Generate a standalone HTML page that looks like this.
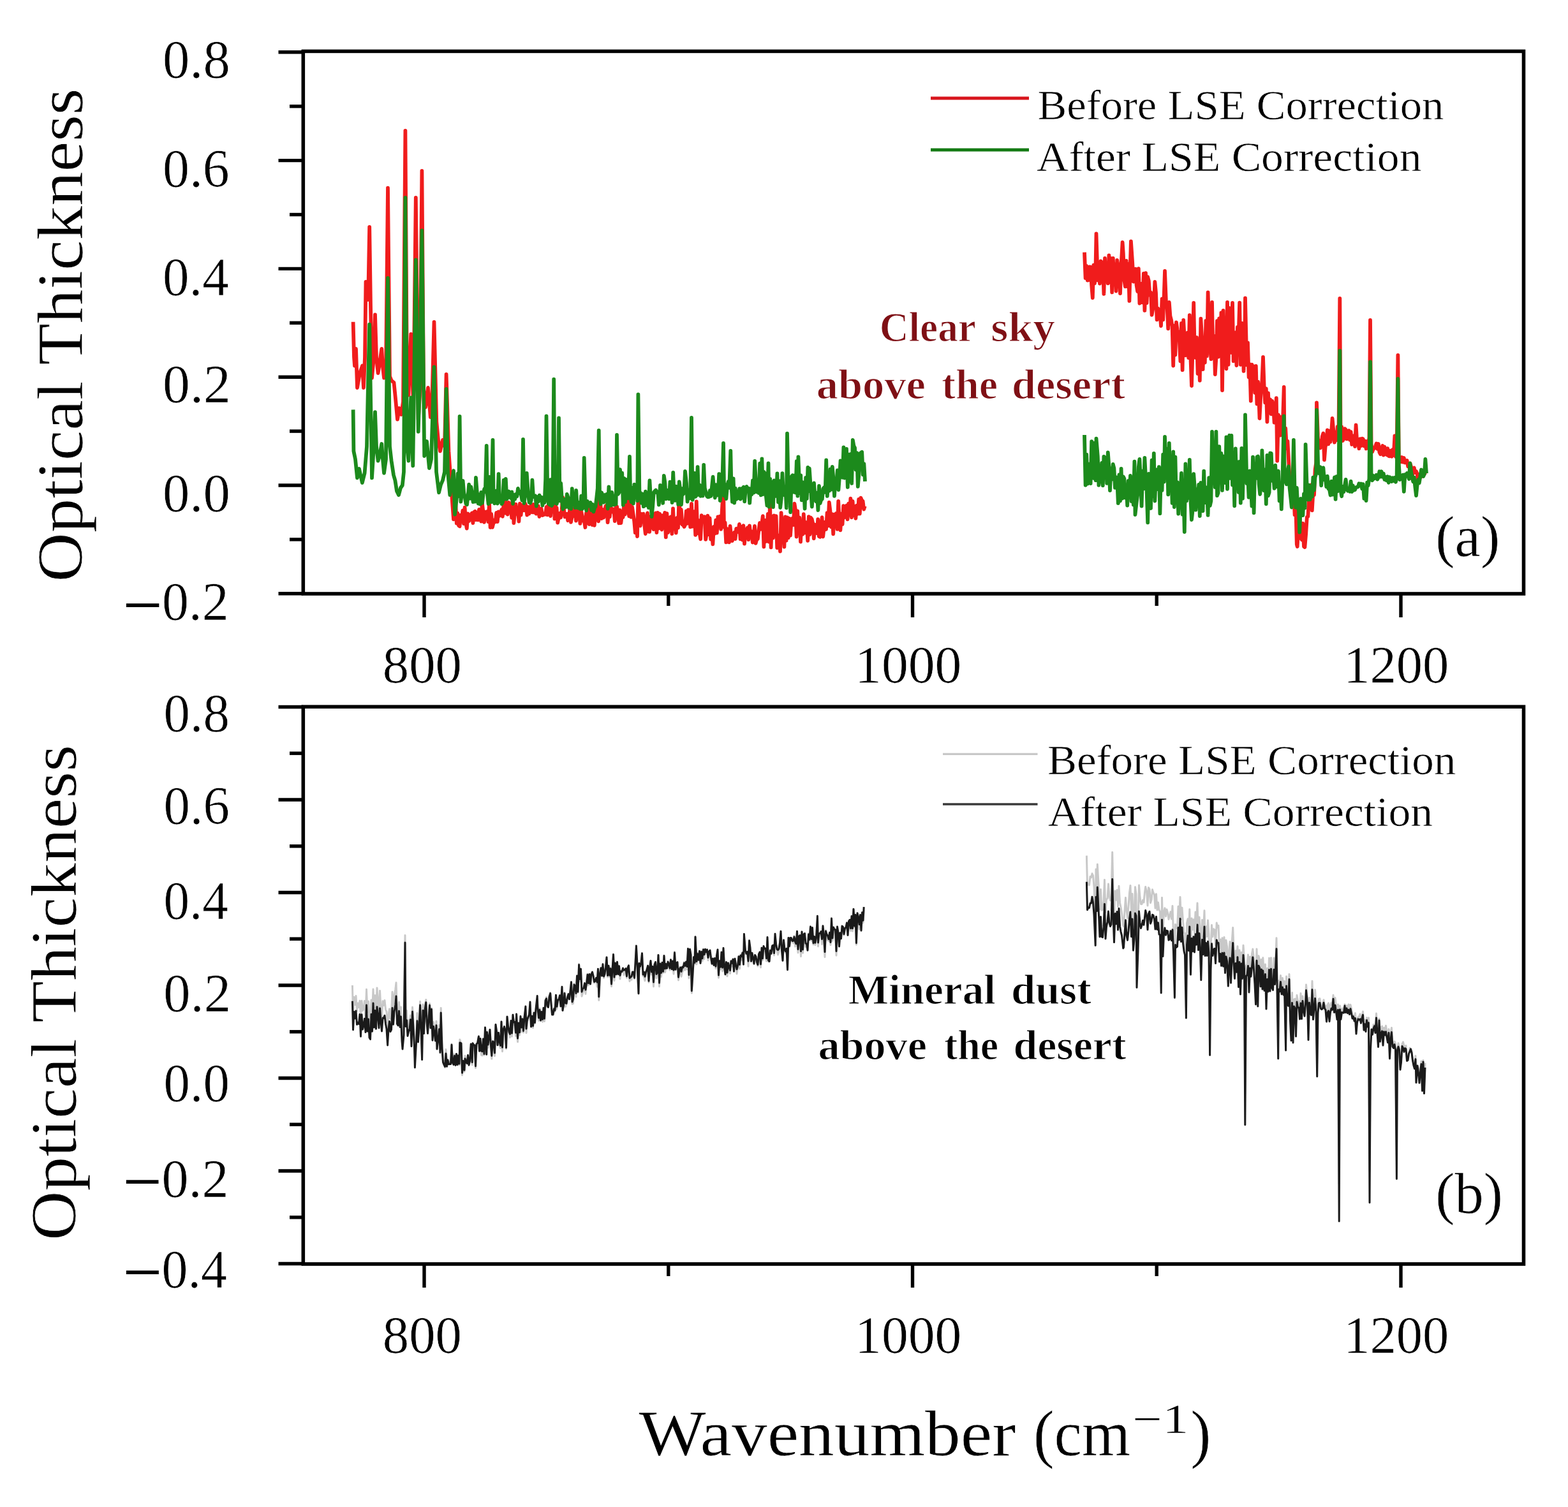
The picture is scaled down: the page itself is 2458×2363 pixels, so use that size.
<!DOCTYPE html>
<html><head><meta charset="utf-8"><title>Optical Thickness</title><style>html,body{margin:0;padding:0;background:#fff;overflow:hidden;}svg{display:block;}</style></head><body>
<svg width="2458" height="2363" viewBox="0 0 2458 2363" font-family='"Liberation Serif", "DejaVu Serif", serif'>
<rect width="2458" height="2363" fill="#fff"/>
<rect x="475.3" y="80.4" width="1913.2" height="850.6" fill="none" stroke="#000" stroke-width="5.6"/>
<line x1="436.5" y1="81.8" x2="475.3" y2="81.8" stroke="#000" stroke-width="5.4"/>
<line x1="436.5" y1="251.6" x2="475.3" y2="251.6" stroke="#000" stroke-width="5.4"/>
<line x1="436.5" y1="421.4" x2="475.3" y2="421.4" stroke="#000" stroke-width="5.4"/>
<line x1="436.5" y1="591.2" x2="475.3" y2="591.2" stroke="#000" stroke-width="5.4"/>
<line x1="436.5" y1="761.0" x2="475.3" y2="761.0" stroke="#000" stroke-width="5.4"/>
<line x1="436.5" y1="930.8" x2="475.3" y2="930.8" stroke="#000" stroke-width="5.4"/>
<line x1="454" y1="166.7" x2="475.3" y2="166.7" stroke="#000" stroke-width="5.4"/>
<line x1="454" y1="336.5" x2="475.3" y2="336.5" stroke="#000" stroke-width="5.4"/>
<line x1="454" y1="506.3" x2="475.3" y2="506.3" stroke="#000" stroke-width="5.4"/>
<line x1="454" y1="676.1" x2="475.3" y2="676.1" stroke="#000" stroke-width="5.4"/>
<line x1="454" y1="845.9" x2="475.3" y2="845.9" stroke="#000" stroke-width="5.4"/>
<line x1="665.0" y1="931.0" x2="665.0" y2="968.0" stroke="#000" stroke-width="5.4"/>
<line x1="1430.5" y1="931.0" x2="1430.5" y2="968.0" stroke="#000" stroke-width="5.4"/>
<line x1="2196.0" y1="931.0" x2="2196.0" y2="968.0" stroke="#000" stroke-width="5.4"/>
<line x1="1047.8" y1="931.0" x2="1047.8" y2="950.0" stroke="#000" stroke-width="5.4"/>
<line x1="1813.2" y1="931.0" x2="1813.2" y2="950.0" stroke="#000" stroke-width="5.4"/>
<rect x="475.3" y="1108.2" width="1913.2" height="873.8" fill="none" stroke="#000" stroke-width="5.6"/>
<line x1="436.5" y1="1108.5" x2="475.3" y2="1108.5" stroke="#000" stroke-width="5.4"/>
<line x1="436.5" y1="1254.0" x2="475.3" y2="1254.0" stroke="#000" stroke-width="5.4"/>
<line x1="436.5" y1="1399.5" x2="475.3" y2="1399.5" stroke="#000" stroke-width="5.4"/>
<line x1="436.5" y1="1545.0" x2="475.3" y2="1545.0" stroke="#000" stroke-width="5.4"/>
<line x1="436.5" y1="1690.5" x2="475.3" y2="1690.5" stroke="#000" stroke-width="5.4"/>
<line x1="436.5" y1="1836.0" x2="475.3" y2="1836.0" stroke="#000" stroke-width="5.4"/>
<line x1="436.5" y1="1981.5" x2="475.3" y2="1981.5" stroke="#000" stroke-width="5.4"/>
<line x1="454" y1="1181.2" x2="475.3" y2="1181.2" stroke="#000" stroke-width="5.4"/>
<line x1="454" y1="1326.8" x2="475.3" y2="1326.8" stroke="#000" stroke-width="5.4"/>
<line x1="454" y1="1472.2" x2="475.3" y2="1472.2" stroke="#000" stroke-width="5.4"/>
<line x1="454" y1="1617.8" x2="475.3" y2="1617.8" stroke="#000" stroke-width="5.4"/>
<line x1="454" y1="1763.2" x2="475.3" y2="1763.2" stroke="#000" stroke-width="5.4"/>
<line x1="454" y1="1908.8" x2="475.3" y2="1908.8" stroke="#000" stroke-width="5.4"/>
<line x1="665.0" y1="1982.0" x2="665.0" y2="2019.0" stroke="#000" stroke-width="5.4"/>
<line x1="1430.5" y1="1982.0" x2="1430.5" y2="2019.0" stroke="#000" stroke-width="5.4"/>
<line x1="2196.0" y1="1982.0" x2="2196.0" y2="2019.0" stroke="#000" stroke-width="5.4"/>
<line x1="1047.8" y1="1982.0" x2="1047.8" y2="2001.0" stroke="#000" stroke-width="5.4"/>
<line x1="1813.2" y1="1982.0" x2="1813.2" y2="2001.0" stroke="#000" stroke-width="5.4"/>
<path d="M553.6,504.8 L555.0,560.0 L556.0,573.6 L558.0,547.0 L560.0,608.0 L564.0,585.0 L568.0,573.6 L570.0,608.0 L572.0,560.0 L573.5,441.8 L576.0,470.0 L577.5,450.0 L579.2,355.8 L581.0,480.0 L583.0,592.7 L586.0,560.0 L588.0,493.4 L590.0,560.0 L592.6,585.0 L595.0,570.0 L598.3,546.9 L600.0,575.0 L602.0,592.7 L605.0,580.0 L608.0,294.6 L611.0,590.0 L613.6,596.6 L617.5,600.0 L620.0,625.0 L623.0,657.7 L626.0,640.0 L629.0,650.0 L632.0,630.0 L635.4,204.8 L638.0,600.0 L640.4,619.5 L644.2,524.0 L648.0,638.6 L651.8,310.0 L655.7,657.7 L658.0,620.0 L661.4,267.9 L664.0,610.0 L667.0,638.6 L671.0,608.0 L674.8,654.0 L677.0,640.0 L680.5,504.8 L684.3,661.5 L687.0,690.0 L690.0,707.4 L694.0,690.0 L697.0,700.0 L699.6,587.0 L703.4,707.4 L707.0,760.0 L711.0,814.4 L712.6,812.5 L714.2,787.2 L715.8,820.6 L717.4,804.7 L719.0,824.0 L720.6,825.3 L722.2,807.7 L723.8,812.6 L725.4,800.3 L727.0,821.1 L728.6,795.7 L730.2,820.2 L731.8,828.6 L733.4,805.3 L735.0,817.1 L736.6,814.2 L738.2,807.1 L739.8,804.5 L741.4,820.2 L743.0,803.0 L744.6,801.8 L746.2,815.2 L747.8,803.4 L749.4,815.4 L751.0,799.0 L752.6,800.1 L754.2,817.6 L755.8,788.2 L757.4,802.4 L759.0,818.9 L760.6,802.6 L762.2,813.7 L763.8,801.9 L765.4,818.1 L767.0,788.1 L768.6,827.0 L770.2,806.0 L771.8,826.9 L773.4,820.8 L775.0,815.5 L776.6,818.2 L778.2,803.9 L779.8,818.1 L781.4,802.5 L783.0,808.9 L784.6,804.3 L786.2,799.3 L787.8,809.9 L789.4,791.4 L791.0,786.9 L792.6,804.7 L794.2,787.8 L795.8,806.5 L797.4,787.8 L799.0,800.0 L800.6,790.7 L802.2,811.9 L803.8,775.4 L805.4,820.1 L807.0,805.2 L808.6,790.7 L810.2,805.9 L811.8,796.3 L813.4,817.5 L815.0,789.6 L816.6,807.6 L818.2,792.2 L819.8,795.5 L821.4,800.3 L823.0,789.1 L824.6,792.9 L826.2,807.7 L827.8,795.0 L829.4,805.7 L831.0,794.3 L832.6,793.2 L834.2,803.3 L835.8,790.8 L837.4,803.6 L839.0,791.3 L840.6,805.7 L842.2,803.7 L843.8,793.3 L845.4,810.1 L847.0,803.0 L848.6,797.6 L850.2,808.1 L851.8,807.6 L853.4,805.5 L855.0,806.5 L856.6,794.8 L858.2,807.4 L859.8,790.8 L861.4,796.4 L863.0,809.2 L864.6,791.7 L866.2,793.8 L868.4,765.5 L869.4,813.5 L871.0,794.4 L872.6,796.3 L874.2,819.6 L875.8,811.5 L877.4,804.9 L879.0,811.5 L880.6,799.6 L882.2,779.9 L883.8,797.0 L885.4,810.5 L887.0,809.7 L888.6,805.8 L890.2,816.2 L891.8,811.4 L893.4,797.9 L895.0,818.8 L896.6,810.4 L898.2,797.1 L899.8,809.1 L901.4,798.8 L903.0,816.6 L904.6,802.1 L906.2,799.9 L907.8,800.1 L909.4,820.9 L911.0,801.4 L912.6,808.6 L914.2,816.9 L915.8,816.2 L917.4,827.0 L919.0,804.7 L920.6,820.2 L922.2,791.6 L923.8,822.0 L925.4,804.7 L927.0,811.7 L928.6,823.0 L930.2,802.0 L931.8,823.9 L933.4,801.9 L935.0,814.8 L936.6,784.9 L938.2,817.3 L939.8,797.2 L941.4,789.9 L943.0,813.1 L944.6,799.0 L946.2,811.7 L947.8,804.1 L949.4,793.8 L951.0,792.1 L952.6,819.2 L954.2,802.6 L955.8,810.4 L957.4,794.8 L959.0,797.8 L960.6,802.9 L962.2,798.6 L963.8,817.1 L965.4,796.0 L967.0,794.1 L968.6,802.3 L970.2,820.3 L971.8,799.9 L973.4,820.2 L975.0,807.5 L976.6,811.0 L978.2,790.3 L979.8,806.6 L981.4,792.4 L983.0,769.9 L984.6,797.7 L986.2,809.3 L987.8,776.4 L989.4,810.8 L991.0,795.0 L992.6,805.9 L994.2,817.0 L995.8,835.3 L997.4,822.3 L999.0,841.1 L1000.4,780.0 L1002.2,808.0 L1003.8,824.5 L1005.4,806.0 L1007.0,813.4 L1008.6,805.7 L1010.2,822.9 L1011.8,837.0 L1013.4,817.0 L1015.0,804.4 L1016.6,833.7 L1018.2,833.9 L1019.8,810.0 L1021.4,827.3 L1023.0,807.5 L1024.6,830.1 L1026.2,807.3 L1027.8,804.6 L1029.4,835.0 L1031.0,803.8 L1032.6,828.6 L1034.2,805.7 L1035.8,817.5 L1037.4,830.5 L1039.0,808.1 L1040.6,826.2 L1042.2,803.8 L1043.8,842.3 L1045.4,805.1 L1047.0,835.2 L1048.6,830.0 L1050.2,811.5 L1051.8,810.2 L1053.4,837.2 L1055.0,797.5 L1056.6,829.2 L1058.2,815.4 L1059.8,835.6 L1061.4,811.8 L1063.0,827.7 L1064.6,778.1 L1066.2,820.2 L1067.8,799.0 L1069.4,822.5 L1071.0,823.1 L1072.6,826.0 L1074.2,822.5 L1075.8,801.5 L1077.4,820.9 L1079.0,799.5 L1080.6,804.8 L1082.2,826.3 L1084.0,790.0 L1085.4,825.7 L1087.0,821.7 L1088.6,802.1 L1090.2,838.9 L1091.8,786.4 L1093.4,836.2 L1095.0,815.8 L1096.6,836.2 L1098.2,845.4 L1099.8,808.1 L1101.4,817.5 L1103.0,815.5 L1104.6,810.2 L1106.2,845.9 L1107.8,837.0 L1109.4,808.7 L1111.0,838.0 L1112.6,812.3 L1114.2,845.5 L1115.8,830.5 L1117.4,853.4 L1119.0,825.8 L1120.6,836.7 L1122.2,815.7 L1123.8,835.7 L1125.4,810.4 L1127.0,814.7 L1128.6,809.6 L1130.2,829.8 L1131.8,800.9 L1134.0,761.2 L1135.0,826.4 L1136.6,819.4 L1138.2,850.3 L1139.8,829.1 L1141.4,849.7 L1143.0,850.3 L1144.6,825.0 L1146.2,843.3 L1147.8,848.1 L1149.4,842.4 L1151.0,834.9 L1152.6,845.1 L1154.2,828.9 L1155.8,834.2 L1157.4,832.8 L1159.0,821.9 L1160.6,845.2 L1162.2,825.9 L1163.8,846.6 L1165.4,824.2 L1167.0,852.7 L1168.6,830.4 L1170.2,838.5 L1171.8,827.5 L1173.4,846.2 L1175.0,824.4 L1176.6,839.3 L1178.2,833.4 L1179.8,850.5 L1181.4,842.1 L1183.0,824.8 L1184.6,851.9 L1186.2,845.9 L1187.8,845.1 L1189.4,831.2 L1191.0,820.0 L1192.6,829.8 L1194.2,821.8 L1195.8,809.1 L1197.4,857.3 L1199.0,815.9 L1200.6,849.1 L1202.2,828.8 L1203.8,806.0 L1205.4,849.6 L1207.0,789.1 L1208.6,858.3 L1210.2,809.4 L1211.8,843.7 L1213.4,808.5 L1215.0,830.4 L1216.6,809.1 L1218.2,859.0 L1219.8,839.3 L1221.4,841.5 L1223.0,864.5 L1224.6,804.2 L1226.2,827.4 L1227.8,830.6 L1229.4,857.5 L1231.0,810.3 L1232.6,847.6 L1234.2,811.4 L1235.8,843.4 L1237.4,813.0 L1239.0,839.7 L1240.6,815.7 L1242.2,812.9 L1243.8,823.1 L1245.4,789.7 L1247.0,799.7 L1248.6,841.7 L1250.2,801.3 L1251.8,836.1 L1253.4,811.6 L1255.0,849.5 L1256.6,817.3 L1258.2,837.9 L1259.8,806.1 L1261.4,835.7 L1263.0,819.0 L1264.6,821.7 L1266.2,847.9 L1267.8,810.1 L1269.4,838.2 L1271.0,811.7 L1272.6,813.7 L1274.2,820.5 L1275.8,844.4 L1277.4,822.6 L1279.0,831.3 L1280.6,836.2 L1282.2,814.1 L1283.8,841.2 L1285.4,841.9 L1287.0,827.0 L1288.6,811.2 L1290.2,841.5 L1291.8,826.9 L1293.4,818.6 L1295.0,830.0 L1296.6,804.1 L1298.2,824.5 L1299.8,787.7 L1301.4,800.8 L1303.0,826.4 L1304.6,806.2 L1306.2,837.3 L1307.8,806.6 L1309.4,824.8 L1311.0,804.8 L1312.6,829.8 L1314.2,785.8 L1315.8,818.4 L1317.4,831.4 L1319.0,805.3 L1320.6,822.2 L1322.2,793.2 L1323.8,811.5 L1325.4,804.1 L1327.0,792.6 L1328.6,814.4 L1330.2,789.7 L1331.8,807.7 L1333.4,781.6 L1335.0,811.3 L1336.6,786.0 L1338.2,808.1 L1339.8,794.2 L1341.4,812.8 L1343.0,792.7 L1344.6,805.9 L1346.2,783.0 L1347.8,805.5 L1349.4,780.6 L1351.0,784.4 L1352.6,785.9 L1354.2,798.5 L1355.8,793.7" stroke="#f01c1c" stroke-width="5.8" fill="none" stroke-linejoin="round" stroke-linecap="butt"/>
<path d="M1700.0,395.7 L1701.6,436.2 L1703.2,417.0 L1704.8,439.5 L1706.4,439.4 L1708.0,418.5 L1709.6,418.7 L1711.2,447.5 L1712.8,467.1 L1714.4,415.6 L1716.0,444.4 L1717.6,415.1 L1718.5,366.5 L1720.8,439.5 L1722.4,411.4 L1724.0,444.6 L1725.6,409.5 L1727.2,429.9 L1728.8,411.4 L1730.4,460.9 L1732.0,405.0 L1733.6,438.7 L1735.2,417.9 L1736.8,444.4 L1738.4,400.4 L1740.0,442.3 L1741.6,405.2 L1743.2,458.4 L1744.8,404.8 L1746.4,439.3 L1748.0,414.5 L1749.6,456.5 L1751.2,407.8 L1752.8,417.7 L1754.4,427.0 L1756.0,460.2 L1757.6,415.4 L1759.6,379.8 L1760.8,397.3 L1762.4,439.8 L1764.0,449.4 L1765.6,408.9 L1767.2,449.3 L1768.8,414.2 L1770.4,471.8 L1772.0,410.2 L1772.9,378.5 L1775.2,411.9 L1776.8,441.6 L1778.4,440.7 L1780.0,421.6 L1781.6,447.1 L1783.2,457.0 L1784.8,421.2 L1786.4,475.6 L1788.0,444.6 L1789.6,453.2 L1791.2,474.3 L1792.8,428.8 L1794.4,486.9 L1796.0,428.2 L1797.6,475.1 L1799.2,434.2 L1800.8,440.4 L1802.4,462.7 L1804.0,458.4 L1805.6,493.8 L1807.2,484.8 L1808.8,477.7 L1810.4,441.9 L1812.0,459.1 L1813.6,501.4 L1815.2,483.7 L1816.8,488.5 L1818.4,491.2 L1820.0,511.0 L1821.6,468.6 L1823.2,501.3 L1824.8,461.2 L1826.0,425.0 L1828.0,475.7 L1829.6,481.2 L1831.2,515.4 L1832.8,474.0 L1834.4,495.4 L1836.0,501.4 L1837.6,512.0 L1839.2,573.5 L1840.8,510.6 L1842.4,556.5 L1844.0,505.4 L1845.6,517.0 L1847.2,525.1 L1848.8,533.7 L1850.4,566.3 L1852.0,507.0 L1853.6,580.1 L1855.2,502.0 L1856.8,530.9 L1858.4,557.3 L1860.0,555.6 L1861.6,521.6 L1863.2,561.1 L1864.8,494.2 L1866.4,559.9 L1868.0,605.0 L1869.6,546.1 L1871.2,475.0 L1872.8,554.8 L1874.4,560.9 L1876.0,529.2 L1877.6,585.8 L1879.2,542.9 L1880.8,596.6 L1882.4,499.7 L1884.0,527.1 L1885.6,579.1 L1887.2,530.9 L1888.8,568.5 L1890.4,502.9 L1892.0,558.2 L1893.6,458.4 L1895.2,517.7 L1896.8,535.3 L1898.4,563.2 L1900.0,474.0 L1901.6,560.3 L1903.2,526.9 L1904.8,587.0 L1906.4,561.5 L1908.0,503.2 L1909.6,559.7 L1911.2,499.4 L1912.8,558.4 L1914.4,490.5 L1916.0,612.0 L1917.6,486.8 L1919.2,550.8 L1920.8,510.9 L1922.4,578.3 L1924.0,473.8 L1925.6,571.7 L1927.2,482.9 L1928.8,499.0 L1930.4,552.8 L1932.0,475.0 L1933.6,566.2 L1935.2,548.2 L1936.8,521.3 L1938.4,573.0 L1940.0,512.9 L1941.6,525.9 L1943.2,474.6 L1944.8,571.8 L1946.4,506.6 L1948.0,526.7 L1949.6,581.9 L1951.2,530.7 L1952.0,467.4 L1954.4,572.3 L1956.0,537.4 L1957.6,591.5 L1959.2,571.2 L1960.8,628.6 L1962.4,571.6 L1964.0,595.5 L1965.6,574.5 L1967.2,615.8 L1968.8,573.8 L1970.4,633.3 L1972.0,598.7 L1973.6,630.6 L1974.5,656.0 L1976.8,610.7 L1978.4,597.6 L1980.0,560.0 L1981.6,604.8 L1983.2,631.3 L1984.8,609.4 L1986.4,661.5 L1988.0,616.3 L1989.6,647.2 L1991.2,626.4 L1992.8,649.4 L1994.4,628.9 L1996.0,635.1 L1997.6,662.7 L1999.2,662.3 L2000.8,624.2 L2002.2,722.6 L2004.0,650.3 L2005.6,662.1 L2007.2,682.5 L2008.8,653.7 L2010.4,677.7 L2012.7,607.0 L2013.6,704.0 L2015.2,671.3 L2016.8,700.0 L2018.4,691.5 L2020.0,720.8 L2021.6,749.4 L2023.2,747.5 L2024.8,762.5 L2026.4,793.9 L2028.0,769.6 L2029.6,807.5 L2031.2,790.1 L2032.8,853.7 L2033.7,857.0 L2036.0,816.8 L2037.6,807.8 L2039.2,843.9 L2040.8,846.4 L2042.4,820.6 L2044.0,857.1 L2045.4,858.0 L2047.2,836.7 L2048.8,810.7 L2050.4,809.8 L2052.0,780.9 L2053.6,793.1 L2055.2,760.4 L2056.8,800.3 L2058.4,772.2 L2060.0,776.2 L2061.6,736.1 L2063.2,725.6 L2064.0,631.5 L2066.4,697.1 L2068.0,690.7 L2069.6,702.6 L2071.2,697.9 L2072.8,684.5 L2074.4,679.5 L2076.0,721.2 L2077.6,700.6 L2079.2,695.0 L2080.8,674.3 L2082.4,696.4 L2084.0,675.7 L2085.6,692.9 L2087.2,676.7 L2088.6,656.0 L2090.4,675.7 L2092.0,693.7 L2093.6,678.0 L2095.2,690.1 L2096.8,668.8 L2098.4,690.0 L2100.3,468.0 L2101.6,692.7 L2103.2,669.2 L2104.8,691.1 L2106.4,688.3 L2108.0,672.2 L2109.6,673.7 L2111.2,688.4 L2112.8,687.6 L2114.4,675.1 L2116.0,689.8 L2117.6,677.1 L2119.2,696.9 L2120.8,695.8 L2122.4,683.2 L2124.0,700.1 L2125.6,666.4 L2127.2,692.1 L2128.8,691.1 L2130.4,703.4 L2132.0,688.1 L2133.6,699.2 L2135.2,687.6 L2136.8,688.4 L2138.4,699.3 L2140.0,691.7 L2141.6,703.5 L2143.2,691.8 L2144.8,698.8 L2146.4,686.3 L2148.0,501.9 L2149.6,696.2 L2151.2,708.4 L2152.8,704.1 L2154.4,703.1 L2156.0,700.2 L2157.6,695.5 L2159.2,703.9 L2160.8,696.0 L2162.4,709.1 L2164.0,712.2 L2165.6,711.3 L2167.2,698.9 L2168.8,713.6 L2170.4,700.6 L2172.0,711.8 L2173.6,713.1 L2175.2,703.2 L2176.8,714.9 L2178.4,715.4 L2180.0,706.6 L2181.6,715.8 L2183.2,704.8 L2184.8,713.7 L2186.4,683.4 L2188.0,716.1 L2189.6,709.4 L2191.4,556.8 L2192.8,719.8 L2194.4,722.9 L2196.0,724.0 L2197.6,717.0 L2199.2,724.6 L2200.8,718.0 L2202.4,725.5 L2204.0,725.2 L2205.6,722.1 L2207.2,731.6 L2208.8,729.8 L2210.4,726.4 L2212.0,731.6 L2213.6,750.5 L2215.2,735.0 L2216.8,733.6 L2218.4,741.1 L2220.0,739.0 L2221.6,743.2 L2223.2,756.7 L2224.8,745.1 L2226.4,743.3 L2228.0,747.5 L2229.6,742.8 L2231.2,742.9 L2232.8,743.4 L2234.4,741.0 L2236.0,740.8" stroke="#f01c1c" stroke-width="5.8" fill="none" stroke-linejoin="round" stroke-linecap="butt"/>
<path d="M553.6,642.4 L554.4,707.4 L557.0,720.0 L560.0,749.4 L563.0,735.0 L567.8,757.0 L571.6,741.8 L575.0,700.0 L577.3,588.9 L579.2,508.7 L581.0,620.0 L583.0,749.4 L586.0,700.0 L588.0,646.2 L590.0,700.0 L592.6,722.7 L595.0,715.0 L598.3,696.0 L600.0,720.0 L602.0,741.8 L605.0,720.0 L608.0,436.0 L611.0,700.0 L613.6,722.7 L617.0,745.0 L619.4,753.2 L622.0,770.0 L625.0,776.2 L628.0,765.0 L630.8,761.0 L633.0,740.0 L635.4,310.0 L638.0,700.0 L640.4,722.7 L644.2,623.3 L647.3,730.3 L651.8,407.4 L655.7,676.8 L658.3,589.0 L661.4,361.5 L665.2,715.0 L669.0,692.0 L672.9,734.0 L676.0,720.0 L680.5,575.5 L684.0,740.0 L688.0,772.3 L691.0,760.0 L694.0,753.2 L697.0,740.0 L699.6,610.0 L702.0,740.0 L705.3,776.2 L708.0,760.0 L711.0,738.0 L713.0,806.7 L716.0,780.0 L717.6,742.6 L719.2,778.2 L720.6,653.0 L722.4,786.7 L724.0,773.1 L725.6,753.8 L727.2,772.4 L728.8,779.6 L730.4,789.9 L732.0,791.3 L733.6,777.6 L735.2,759.6 L736.8,781.7 L738.4,763.5 L740.0,773.0 L741.6,787.2 L743.2,772.1 L744.8,786.7 L746.0,749.0 L748.0,774.3 L749.6,789.5 L751.2,775.5 L752.8,790.7 L754.4,771.9 L756.0,788.9 L757.6,774.1 L759.2,766.8 L760.8,771.2 L762.7,699.0 L764.0,775.5 L765.6,790.2 L767.2,747.8 L768.8,776.8 L770.4,787.1 L772.5,690.0 L773.6,776.9 L775.2,789.3 L776.8,782.0 L778.4,769.4 L780.0,789.5 L781.6,743.1 L783.2,786.7 L784.8,777.1 L786.4,790.2 L788.0,787.5 L789.6,752.8 L791.2,782.6 L792.8,751.0 L794.4,782.7 L796.0,780.1 L797.6,770.5 L799.2,779.4 L800.8,781.1 L802.4,771.4 L804.0,789.8 L805.6,775.8 L807.2,782.7 L808.8,774.9 L810.4,778.4 L812.0,765.9 L813.6,773.6 L815.2,770.7 L816.8,775.1 L818.4,784.6 L820.0,689.0 L821.6,789.0 L823.2,775.5 L824.8,773.1 L825.7,741.8 L828.0,775.2 L829.6,787.9 L831.2,788.7 L832.8,784.4 L834.4,752.7 L836.0,779.1 L837.6,778.0 L839.2,777.4 L840.8,793.7 L842.4,779.1 L844.0,786.5 L845.6,776.6 L847.2,781.1 L848.8,779.7 L850.4,792.7 L852.0,780.2 L853.6,788.2 L855.2,751.0 L856.5,652.5 L858.4,779.1 L860.0,790.0 L861.6,791.5 L863.2,752.1 L864.8,793.0 L866.4,790.3 L868.2,594.6 L869.6,772.5 L871.2,789.2 L872.8,789.9 L874.4,782.9 L876.0,655.5 L877.6,785.3 L879.2,757.6 L880.8,782.8 L882.4,798.3 L884.0,793.3 L885.6,783.0 L887.2,795.1 L888.8,775.0 L890.4,780.0 L892.0,796.4 L893.6,784.2 L895.2,797.9 L896.8,766.1 L898.4,786.8 L900.0,784.5 L901.6,796.1 L903.2,769.0 L904.8,795.9 L906.4,796.6 L908.0,787.9 L909.6,798.1 L911.2,777.7 L912.8,798.1 L914.4,795.4 L915.7,718.0 L917.6,784.7 L919.2,800.5 L920.8,785.9 L922.4,793.7 L924.0,789.4 L925.6,788.0 L927.2,800.2 L928.8,790.9 L930.4,802.4 L932.0,796.8 L933.6,794.3 L935.2,780.6 L936.8,765.8 L938.7,675.0 L940.0,774.1 L941.6,790.4 L943.2,772.3 L944.8,779.0 L946.4,787.7 L948.0,776.0 L949.6,785.6 L951.2,775.0 L952.8,797.5 L954.4,763.3 L956.0,792.4 L957.6,792.5 L959.2,771.8 L960.8,780.3 L962.4,791.7 L964.0,777.7 L965.6,790.6 L967.0,682.0 L968.8,774.8 L970.4,772.4 L972.0,736.2 L973.6,752.4 L975.2,741.7 L976.8,791.9 L978.4,750.1 L980.0,787.0 L981.6,751.8 L983.2,769.1 L984.8,781.4 L987.0,716.0 L988.0,766.5 L989.6,787.0 L991.2,764.9 L992.8,789.5 L994.4,759.6 L996.0,764.2 L997.6,760.3 L999.2,785.2 L1000.4,618.4 L1002.4,770.6 L1004.0,773.0 L1005.6,788.9 L1007.2,774.5 L1008.8,794.2 L1010.4,792.8 L1012.0,770.7 L1013.6,792.4 L1015.2,780.9 L1016.8,796.1 L1018.4,753.3 L1020.0,780.9 L1021.6,810.1 L1023.2,793.9 L1024.8,772.4 L1026.4,770.0 L1028.0,768.5 L1029.6,772.4 L1031.2,771.6 L1032.8,791.6 L1035.0,761.0 L1036.0,784.1 L1037.6,768.8 L1039.2,788.9 L1040.8,745.9 L1042.4,756.6 L1044.0,782.3 L1045.6,777.7 L1047.2,768.6 L1048.8,782.3 L1050.4,755.6 L1052.0,768.5 L1053.6,788.1 L1055.2,740.8 L1056.8,777.7 L1058.4,784.8 L1060.0,762.7 L1061.6,770.6 L1063.2,790.9 L1064.8,755.5 L1066.4,768.1 L1068.0,791.3 L1069.6,766.2 L1071.2,774.8 L1072.8,764.3 L1074.0,738.8 L1076.0,757.5 L1077.6,786.7 L1079.2,769.1 L1080.8,781.7 L1082.4,764.7 L1084.0,655.0 L1085.6,783.8 L1087.2,777.0 L1088.8,742.0 L1090.4,778.8 L1092.0,776.3 L1093.6,732.2 L1095.2,775.8 L1096.8,760.6 L1098.4,777.9 L1100.0,764.3 L1101.6,777.7 L1103.2,728.9 L1104.8,765.2 L1106.4,771.3 L1108.0,777.9 L1109.6,779.4 L1111.2,779.2 L1112.8,769.1 L1114.4,778.0 L1116.0,763.4 L1117.6,747.7 L1119.2,767.2 L1120.8,780.5 L1122.4,760.1 L1124.0,776.6 L1125.6,775.8 L1127.2,743.2 L1128.8,785.0 L1130.4,767.6 L1132.0,765.6 L1134.0,695.0 L1135.2,777.3 L1136.8,759.7 L1138.4,782.1 L1140.0,763.2 L1141.6,755.2 L1143.2,764.9 L1145.3,707.0 L1146.4,760.0 L1148.0,786.8 L1149.6,750.3 L1151.2,788.6 L1152.8,765.6 L1154.4,782.9 L1156.0,770.4 L1157.6,781.2 L1159.2,766.1 L1160.8,782.7 L1162.4,766.1 L1164.0,780.6 L1165.6,763.6 L1167.2,786.4 L1168.8,766.5 L1170.4,763.0 L1172.0,768.3 L1173.6,765.7 L1175.2,788.7 L1176.8,766.2 L1178.4,775.3 L1180.0,753.4 L1181.6,772.7 L1183.2,722.8 L1184.8,754.5 L1186.4,771.5 L1188.0,760.4 L1189.6,773.2 L1191.2,726.6 L1192.8,776.4 L1194.4,719.3 L1196.0,775.0 L1197.6,740.0 L1199.2,742.5 L1200.8,777.4 L1202.4,792.7 L1204.5,726.5 L1205.6,794.7 L1207.2,750.9 L1208.8,777.5 L1210.4,755.9 L1212.0,795.1 L1213.6,753.4 L1215.2,757.6 L1216.8,777.9 L1218.4,742.3 L1220.0,787.5 L1221.6,754.2 L1223.2,796.0 L1224.8,781.7 L1226.4,742.2 L1228.0,775.2 L1229.6,776.3 L1231.2,762.9 L1232.8,796.4 L1234.0,679.6 L1236.0,772.8 L1237.6,750.1 L1239.2,803.2 L1240.8,747.2 L1242.4,745.2 L1244.0,771.7 L1245.6,745.3 L1247.2,772.6 L1248.8,723.2 L1250.4,777.7 L1251.4,716.3 L1253.6,773.1 L1255.2,745.4 L1256.8,784.3 L1258.4,756.2 L1260.0,765.5 L1261.6,797.5 L1263.2,748.8 L1264.8,781.9 L1266.4,732.8 L1268.0,770.0 L1268.8,734.7 L1271.2,770.0 L1272.8,794.6 L1274.4,770.2 L1276.0,757.4 L1277.6,778.4 L1279.2,786.2 L1280.8,772.6 L1282.4,800.0 L1284.0,762.0 L1285.6,789.2 L1287.2,784.0 L1288.8,782.6 L1290.4,766.1 L1292.0,764.3 L1293.6,771.9 L1295.2,721.5 L1296.8,777.8 L1298.4,755.2 L1300.0,769.6 L1301.6,735.6 L1303.2,767.6 L1304.8,731.8 L1306.4,750.1 L1308.0,777.9 L1309.6,750.7 L1311.2,759.5 L1312.8,737.4 L1314.4,768.2 L1316.0,747.5 L1317.6,722.3 L1319.2,732.9 L1320.8,748.8 L1322.4,701.3 L1324.0,749.5 L1325.6,743.4 L1327.0,704.0 L1328.8,763.9 L1330.4,712.6 L1332.0,754.6 L1333.6,712.0 L1335.2,757.9 L1336.8,689.8 L1338.4,699.0 L1340.0,702.0 L1341.6,736.6 L1343.2,710.2 L1344.8,762.9 L1346.4,744.3 L1348.0,711.3 L1349.4,710.0 L1351.2,708.7 L1352.8,744.3 L1354.4,727.1 L1356.0,754.9" stroke="#1c8a1c" stroke-width="5.8" fill="none" stroke-linejoin="round" stroke-linecap="butt"/>
<path d="M1700.0,682.0 L1701.6,760.8 L1703.2,712.7 L1704.8,758.6 L1706.4,745.1 L1708.0,727.5 L1709.6,758.1 L1711.2,692.2 L1712.8,748.7 L1714.4,749.8 L1716.0,694.3 L1717.6,753.2 L1718.5,687.6 L1720.8,715.2 L1722.4,760.9 L1724.0,746.9 L1725.6,751.2 L1727.2,725.8 L1728.8,761.4 L1730.4,715.8 L1732.0,742.8 L1733.6,717.7 L1735.2,757.8 L1736.8,709.4 L1738.4,730.9 L1740.0,769.2 L1741.6,734.6 L1743.2,751.6 L1744.8,727.9 L1746.4,734.2 L1748.0,764.8 L1749.6,748.1 L1751.2,750.7 L1752.8,789.1 L1754.4,744.5 L1756.0,785.5 L1757.6,734.9 L1759.2,781.7 L1760.8,747.3 L1762.4,750.5 L1764.0,780.7 L1765.6,760.6 L1767.2,792.6 L1768.8,753.8 L1770.4,771.6 L1772.0,745.8 L1773.6,786.1 L1775.2,769.4 L1776.8,791.5 L1778.4,723.6 L1779.5,807.0 L1781.6,788.2 L1783.2,776.4 L1784.8,732.5 L1786.4,719.8 L1788.0,751.7 L1789.6,793.7 L1791.2,738.4 L1792.8,766.4 L1794.4,717.8 L1796.0,749.0 L1797.6,769.8 L1799.2,819.4 L1800.8,742.8 L1802.4,771.7 L1804.0,797.0 L1805.6,721.7 L1807.2,778.2 L1808.8,710.8 L1810.4,785.5 L1812.0,745.1 L1813.6,736.4 L1815.2,767.0 L1816.8,732.1 L1818.4,805.2 L1820.0,735.5 L1821.6,768.9 L1823.2,712.7 L1824.8,755.4 L1826.0,685.0 L1828.0,745.6 L1829.6,704.2 L1831.2,775.4 L1832.8,694.8 L1834.4,755.4 L1836.0,734.9 L1837.6,788.9 L1839.2,708.3 L1840.8,795.0 L1842.4,716.6 L1844.0,787.1 L1845.6,756.1 L1847.2,805.7 L1848.8,774.5 L1850.4,773.0 L1852.0,742.0 L1853.6,806.7 L1855.2,763.5 L1856.8,834.0 L1858.4,727.5 L1860.0,785.4 L1861.6,743.6 L1863.2,780.8 L1864.8,720.8 L1866.4,783.4 L1868.0,815.0 L1869.6,800.3 L1871.2,743.2 L1872.8,764.4 L1874.4,799.6 L1876.0,767.6 L1877.6,787.3 L1879.2,759.8 L1880.8,809.2 L1882.4,756.9 L1884.0,768.9 L1885.6,801.3 L1887.2,738.6 L1888.8,788.1 L1890.4,764.2 L1892.0,768.1 L1893.6,807.9 L1895.2,749.1 L1896.8,792.8 L1898.4,785.7 L1900.0,677.0 L1901.6,747.6 L1903.2,729.3 L1904.8,764.1 L1906.4,676.8 L1908.0,777.1 L1909.6,772.9 L1911.2,700.1 L1912.8,739.1 L1914.4,711.0 L1916.0,768.9 L1917.6,715.3 L1919.2,718.4 L1920.8,757.1 L1922.4,685.5 L1924.0,766.8 L1925.6,688.6 L1927.2,682.8 L1928.8,749.9 L1930.4,682.8 L1932.0,760.5 L1933.6,718.4 L1935.2,793.3 L1936.8,703.4 L1938.4,761.0 L1940.0,724.2 L1941.6,771.9 L1943.2,723.8 L1944.8,788.7 L1946.4,702.9 L1948.0,781.7 L1949.6,711.0 L1951.2,729.6 L1952.0,650.4 L1954.4,757.9 L1956.0,745.3 L1957.6,779.9 L1959.2,738.3 L1960.8,761.6 L1962.4,793.7 L1964.0,716.6 L1965.6,804.1 L1967.2,731.4 L1968.8,750.0 L1970.4,716.5 L1972.0,715.6 L1973.6,758.9 L1975.2,775.0 L1976.8,761.6 L1978.4,706.5 L1980.0,745.2 L1981.6,769.2 L1983.2,736.3 L1984.8,790.1 L1986.4,713.9 L1988.0,777.3 L1989.6,772.1 L1991.2,710.5 L1992.8,710.9 L1994.4,754.0 L1996.0,744.6 L1997.6,765.9 L1999.2,729.6 L2000.8,763.3 L2002.4,742.7 L2004.0,738.6 L2005.6,785.3 L2007.2,759.1 L2008.8,798.3 L2010.4,754.6 L2012.7,652.5 L2013.6,744.9 L2015.2,754.1 L2016.8,759.4 L2018.4,739.9 L2020.0,731.3 L2021.6,765.1 L2023.2,780.0 L2024.8,795.5 L2026.4,756.2 L2027.9,690.0 L2029.6,770.5 L2031.2,795.7 L2032.8,765.0 L2034.4,796.0 L2036.0,800.5 L2037.2,834.7 L2039.2,782.0 L2040.8,795.5 L2042.4,808.0 L2044.0,774.4 L2045.6,796.5 L2046.6,697.0 L2048.8,766.6 L2050.4,783.6 L2052.0,760.7 L2053.6,783.3 L2055.2,764.4 L2056.8,778.7 L2058.4,748.7 L2060.0,768.5 L2061.6,748.5 L2063.2,742.8 L2064.0,643.0 L2066.4,737.1 L2068.0,742.3 L2069.6,732.3 L2071.2,761.3 L2072.8,740.2 L2074.4,733.4 L2076.0,752.3 L2077.6,747.1 L2079.2,763.3 L2080.8,746.7 L2082.4,766.5 L2084.0,767.4 L2085.6,776.5 L2087.2,754.7 L2088.8,775.7 L2090.4,765.6 L2092.0,748.4 L2093.6,782.9 L2095.2,747.1 L2096.8,770.4 L2098.4,766.2 L2100.3,549.8 L2101.6,768.7 L2103.2,778.2 L2104.8,762.9 L2106.4,771.4 L2108.0,761.4 L2109.6,751.9 L2111.2,766.5 L2112.8,769.6 L2114.4,766.6 L2116.0,770.8 L2117.6,754.6 L2119.2,771.0 L2120.8,761.3 L2122.4,768.7 L2124.0,768.0 L2125.6,764.3 L2127.2,763.6 L2128.8,763.5 L2130.4,758.2 L2132.0,761.5 L2133.6,758.5 L2135.2,766.5 L2136.8,759.1 L2138.4,781.8 L2140.0,765.6 L2141.6,785.0 L2143.2,756.4 L2144.8,761.2 L2146.4,750.4 L2148.0,567.3 L2149.6,747.3 L2151.2,753.2 L2152.8,745.8 L2154.4,750.4 L2156.0,749.2 L2157.6,744.7 L2159.2,751.6 L2160.8,748.4 L2162.4,739.3 L2164.0,747.6 L2165.6,739.3 L2167.2,747.7 L2168.8,742.6 L2170.4,752.0 L2172.0,747.7 L2173.6,753.4 L2175.2,747.2 L2176.8,756.8 L2178.4,748.1 L2180.0,750.8 L2181.6,755.1 L2183.2,749.2 L2184.8,753.9 L2186.4,749.1 L2188.0,755.7 L2189.6,748.8 L2191.4,594.0 L2192.8,728.3 L2194.4,752.1 L2196.0,747.0 L2197.6,750.1 L2199.2,744.6 L2200.8,770.9 L2202.4,744.2 L2204.0,745.9 L2205.6,742.0 L2207.2,746.5 L2208.8,750.9 L2210.4,726.5 L2212.0,739.3 L2213.6,747.3 L2215.2,755.2 L2216.8,748.6 L2218.4,763.6 L2220.0,777.2 L2221.6,761.1 L2223.2,752.3 L2224.8,757.4 L2226.4,747.3 L2228.0,736.5 L2229.6,745.8 L2231.2,747.0 L2232.8,743.5 L2234.4,719.9 L2236.0,742.1" stroke="#1c8a1c" stroke-width="5.8" fill="none" stroke-linejoin="round" stroke-linecap="butt"/>
<path d="M552.4,1545.0 L553.5,1590.5 L555.0,1563.6 L556.5,1575.5 L558.0,1561.6 L559.5,1585.0 L561.0,1573.0 L562.5,1579.6 L564.0,1569.3 L565.5,1600.8 L567.0,1569.2 L568.5,1584.8 L570.0,1582.4 L571.5,1569.4 L573.0,1593.8 L574.5,1551.3 L576.0,1587.0 L577.5,1569.9 L579.0,1599.7 L580.5,1608.7 L582.0,1567.9 L583.5,1588.8 L585.0,1551.0 L586.5,1582.6 L588.0,1560.7 L589.5,1584.7 L591.0,1548.9 L592.5,1570.9 L594.0,1584.3 L595.5,1553.4 L597.0,1582.2 L598.5,1596.1 L600.0,1569.7 L601.5,1576.6 L603.0,1568.4 L604.5,1583.0 L606.0,1586.3 L607.6,1617.6 L609.0,1592.0 L610.5,1582.0 L612.0,1597.5 L613.5,1588.5 L615.0,1555.2 L616.5,1580.1 L618.0,1561.5 L619.8,1551.5 L621.0,1540.8 L622.5,1588.4 L624.0,1586.1 L625.5,1571.3 L627.0,1594.5 L628.5,1579.0 L630.0,1623.7 L631.0,1632.2 L633.0,1609.7 L635.0,1466.5 L636.0,1600.2 L637.5,1584.4 L639.0,1618.3 L641.2,1599.4 L642.0,1607.3 L643.5,1591.9 L645.0,1625.9 L646.5,1579.2 L648.0,1600.9 L649.5,1632.3 L650.4,1657.4 L652.5,1621.9 L654.0,1588.6 L655.5,1629.7 L657.0,1600.4 L658.6,1570.2 L660.0,1608.7 L661.6,1658.1 L663.0,1575.1 L664.5,1611.6 L666.0,1577.3 L667.8,1567.4 L669.0,1591.5 L670.5,1616.2 L672.0,1593.8 L673.5,1573.4 L675.0,1601.2 L676.5,1580.8 L678.0,1621.4 L679.5,1602.4 L681.0,1614.8 L682.5,1631.0 L684.0,1601.2 L685.0,1644.3 L687.0,1624.7 L688.5,1607.4 L690.0,1644.3 L691.2,1580.6 L693.0,1635.5 L694.5,1658.6 L695.3,1666.1 L697.5,1674.0 L699.0,1645.6 L700.5,1664.8 L702.0,1664.1 L703.5,1666.5 L705.0,1665.0 L706.5,1663.5 L708.0,1636.9 L709.5,1667.3 L711.0,1666.9 L712.5,1652.9 L714.0,1664.1 L715.5,1655.0 L717.0,1663.4 L718.5,1653.8 L720.0,1670.1 L720.8,1630.0 L723.0,1637.1 L724.5,1685.9 L726.0,1664.0 L728.0,1680.2 L729.0,1655.4 L730.5,1664.0 L732.0,1663.7 L733.5,1657.8 L735.0,1668.0 L736.5,1663.7 L738.2,1642.2 L740.2,1669.6 L741.0,1640.9 L742.5,1638.4 L744.0,1639.5 L745.5,1674.8 L747.0,1637.6 L748.5,1634.6 L750.4,1625.2 L751.5,1646.0 L753.0,1628.7 L754.5,1654.4 L756.0,1655.0 L757.5,1631.9 L759.0,1654.5 L760.5,1611.5 L762.7,1651.4 L763.5,1618.1 L765.0,1642.9 L766.7,1630.7 L768.0,1615.1 L769.5,1644.8 L770.8,1660.3 L772.5,1636.6 L774.0,1638.6 L775.5,1655.8 L777.0,1607.2 L778.5,1620.8 L780.0,1638.7 L781.5,1621.1 L783.0,1638.3 L784.5,1643.5 L786.0,1602.0 L787.5,1648.8 L789.0,1617.7 L790.5,1612.5 L792.0,1613.3 L793.5,1644.8 L795.0,1593.9 L796.5,1612.4 L798.0,1619.8 L799.5,1626.7 L801.0,1604.0 L802.5,1625.2 L804.0,1591.9 L805.5,1606.5 L807.0,1607.1 L808.5,1624.7 L809.6,1590.7 L811.5,1633.8 L813.0,1609.9 L814.5,1622.9 L816.0,1600.5 L817.5,1617.8 L819.0,1600.2 L820.5,1619.0 L822.0,1594.5 L823.9,1583.6 L825.0,1619.7 L826.5,1600.7 L828.0,1599.1 L829.5,1595.1 L831.0,1575.7 L832.5,1609.0 L834.0,1598.2 L835.5,1611.7 L837.0,1591.9 L838.5,1604.9 L840.0,1585.3 L842.2,1566.6 L843.0,1585.4 L844.5,1600.4 L846.0,1581.2 L847.5,1599.1 L849.0,1588.1 L850.5,1602.2 L852.0,1580.1 L853.5,1601.4 L855.0,1572.3 L856.5,1563.5 L858.0,1579.6 L859.5,1578.9 L861.0,1561.4 L862.7,1556.3 L864.0,1574.4 L865.5,1590.2 L867.0,1590.4 L868.5,1579.7 L870.0,1586.2 L871.5,1561.4 L873.0,1581.8 L874.5,1571.3 L876.0,1566.9 L877.5,1567.3 L879.0,1575.4 L881.0,1548.8 L882.0,1584.6 L883.5,1577.4 L885.0,1556.0 L886.5,1578.6 L888.0,1574.5 L889.5,1561.8 L891.0,1562.2 L892.5,1565.2 L894.0,1556.9 L895.5,1540.6 L897.0,1574.3 L898.5,1573.7 L900.0,1549.3 L901.5,1548.2 L903.0,1563.1 L904.5,1533.9 L906.0,1556.3 L907.6,1511.6 L909.0,1538.8 L910.5,1522.5 L912.0,1562.3 L913.5,1557.3 L915.0,1552.8 L916.5,1542.6 L918.0,1558.5 L919.5,1539.6 L921.0,1527.0 L922.5,1544.9 L924.0,1531.3 L925.5,1542.1 L927.0,1531.2 L928.5,1530.5 L930.0,1531.4 L931.5,1541.4 L933.0,1538.2 L934.5,1533.9 L936.0,1547.3 L937.5,1520.6 L938.8,1568.5 L940.5,1533.8 L942.0,1521.4 L943.5,1530.3 L945.0,1519.3 L946.5,1533.5 L948.0,1528.7 L949.5,1517.0 L951.0,1508.4 L952.5,1532.1 L954.0,1514.7 L955.5,1531.6 L957.0,1517.7 L958.5,1546.8 L960.0,1522.1 L961.5,1497.0 L963.0,1537.7 L964.5,1516.0 L966.0,1525.7 L967.5,1511.3 L969.0,1528.0 L970.5,1521.8 L972.0,1535.0 L973.5,1523.1 L975.0,1523.9 L976.5,1517.6 L978.0,1528.9 L979.5,1521.4 L981.0,1522.5 L982.5,1533.2 L984.0,1521.6 L985.5,1517.7 L987.0,1538.7 L988.5,1531.2 L990.0,1536.2 L991.5,1524.7 L993.0,1527.3 L994.5,1534.5 L996.0,1510.7 L997.4,1486.1 L999.0,1515.1 L1001.0,1556.7 L1002.0,1515.6 L1003.5,1519.1 L1005.0,1508.1 L1006.5,1495.0 L1008.0,1530.5 L1009.5,1531.1 L1011.0,1537.9 L1012.5,1527.4 L1014.0,1518.5 L1015.5,1519.9 L1017.0,1540.3 L1018.5,1520.9 L1020.0,1511.3 L1021.5,1528.2 L1023.0,1518.3 L1024.5,1546.9 L1026.0,1514.2 L1027.5,1510.3 L1029.0,1533.8 L1030.5,1524.8 L1032.0,1498.3 L1033.5,1547.0 L1035.0,1509.8 L1036.5,1531.7 L1038.0,1514.2 L1039.5,1525.5 L1041.0,1499.4 L1042.5,1524.7 L1044.0,1518.4 L1045.5,1517.8 L1047.0,1510.8 L1048.5,1515.2 L1050.0,1521.1 L1051.5,1505.9 L1053.0,1519.2 L1054.5,1510.9 L1056.0,1527.2 L1057.5,1492.3 L1059.0,1520.5 L1060.5,1516.1 L1062.0,1514.7 L1063.5,1536.9 L1065.0,1519.4 L1066.5,1522.1 L1068.0,1531.2 L1069.5,1524.1 L1071.0,1522.1 L1072.5,1508.5 L1074.0,1521.0 L1075.5,1508.4 L1077.0,1520.1 L1078.5,1495.2 L1080.0,1533.9 L1081.5,1487.9 L1083.0,1498.0 L1084.3,1557.2 L1086.0,1526.7 L1087.5,1504.9 L1089.0,1511.6 L1090.0,1468.7 L1092.0,1512.0 L1093.5,1494.4 L1095.0,1504.5 L1096.5,1493.2 L1098.0,1509.2 L1099.5,1491.3 L1101.0,1506.7 L1102.5,1494.4 L1104.0,1503.7 L1105.5,1487.9 L1107.0,1495.4 L1108.5,1490.3 L1110.0,1505.8 L1111.5,1495.2 L1113.0,1497.6 L1114.5,1503.4 L1116.0,1509.9 L1117.5,1508.2 L1119.0,1513.1 L1120.5,1507.0 L1122.0,1518.5 L1123.5,1505.4 L1125.0,1492.8 L1126.5,1533.2 L1128.0,1507.7 L1129.5,1520.0 L1131.0,1493.9 L1132.5,1522.9 L1134.0,1490.0 L1135.5,1515.7 L1137.0,1528.3 L1138.5,1510.5 L1140.0,1530.8 L1141.5,1509.9 L1143.0,1521.8 L1144.5,1526.5 L1146.0,1506.2 L1147.5,1515.3 L1149.0,1503.5 L1150.5,1522.8 L1152.0,1507.6 L1153.5,1513.2 L1155.0,1526.9 L1156.5,1517.0 L1158.0,1501.3 L1159.5,1518.9 L1161.0,1496.8 L1162.5,1505.3 L1164.0,1492.9 L1165.5,1512.1 L1166.4,1472.4 L1168.5,1495.8 L1170.0,1495.8 L1171.5,1492.0 L1173.0,1515.2 L1174.5,1479.8 L1176.0,1492.5 L1177.5,1507.1 L1179.0,1498.9 L1180.5,1504.0 L1182.0,1511.7 L1183.5,1499.2 L1185.0,1504.5 L1186.5,1510.7 L1188.0,1515.0 L1189.5,1495.9 L1191.0,1499.5 L1192.5,1516.9 L1194.0,1492.8 L1195.5,1505.6 L1197.0,1490.4 L1198.5,1491.0 L1200.0,1491.7 L1201.5,1507.0 L1203.0,1475.4 L1204.5,1508.0 L1206.0,1507.0 L1207.5,1489.3 L1209.0,1495.7 L1210.5,1482.3 L1212.0,1489.4 L1213.5,1498.0 L1215.0,1470.3 L1216.5,1478.8 L1218.0,1491.8 L1219.5,1497.0 L1221.0,1492.5 L1222.5,1481.1 L1224.0,1463.4 L1225.5,1489.7 L1227.0,1506.4 L1228.5,1474.3 L1230.0,1490.6 L1231.5,1494.1 L1233.0,1494.6 L1234.5,1518.8 L1236.0,1471.5 L1237.5,1485.0 L1239.0,1470.8 L1240.5,1472.3 L1242.0,1476.4 L1243.5,1478.8 L1245.0,1467.8 L1246.5,1484.2 L1248.0,1482.1 L1249.5,1468.3 L1251.0,1493.9 L1252.5,1473.5 L1254.0,1470.0 L1255.5,1499.8 L1257.0,1461.0 L1258.5,1494.3 L1260.0,1466.5 L1261.5,1469.0 L1263.0,1485.1 L1264.5,1480.4 L1266.0,1490.7 L1267.5,1464.0 L1269.0,1474.2 L1270.5,1452.6 L1272.0,1475.2 L1273.5,1463.1 L1275.0,1481.1 L1276.5,1470.2 L1278.0,1481.7 L1279.5,1471.4 L1281.4,1442.4 L1282.5,1484.0 L1284.0,1464.0 L1285.5,1464.8 L1287.0,1466.1 L1288.5,1480.7 L1290.0,1456.9 L1291.5,1470.3 L1293.0,1500.8 L1294.5,1458.8 L1296.0,1464.6 L1297.5,1473.9 L1299.0,1475.5 L1300.5,1461.6 L1302.0,1481.8 L1303.5,1448.8 L1305.0,1475.2 L1306.5,1456.2 L1308.0,1457.1 L1309.5,1457.1 L1311.0,1498.2 L1312.5,1456.9 L1314.0,1470.3 L1315.5,1483.4 L1317.0,1464.0 L1318.5,1471.2 L1320.0,1454.9 L1321.5,1452.8 L1323.0,1466.3 L1324.5,1458.4 L1326.0,1456.2 L1327.5,1446.5 L1329.0,1465.8 L1330.5,1453.2 L1332.0,1443.0 L1333.5,1459.7 L1335.0,1439.4 L1336.5,1460.1 L1338.0,1425.2 L1339.5,1454.0 L1341.0,1434.5 L1342.4,1481.2 L1344.0,1439.9 L1345.5,1443.4 L1347.0,1457.1 L1348.5,1435.8 L1350.0,1458.4 L1351.5,1435.2 L1353.0,1447.0 L1354.2,1426.9" stroke="#c8c8c8" stroke-width="3" fill="none" stroke-linejoin="round" stroke-linecap="butt"/>
<path d="M1703.4,1341.6 L1704.5,1388.0 L1706.0,1385.5 L1707.5,1387.8 L1709.0,1374.5 L1710.5,1376.0 L1712.0,1369.8 L1713.5,1372.8 L1715.0,1390.8 L1717.2,1440.0 L1718.0,1363.0 L1719.5,1391.8 L1720.3,1355.2 L1722.5,1393.7 L1724.0,1426.1 L1725.5,1394.4 L1727.0,1427.3 L1728.5,1426.5 L1730.0,1414.3 L1731.5,1379.4 L1733.0,1430.7 L1734.5,1410.0 L1736.0,1408.8 L1737.5,1385.9 L1739.0,1405.5 L1740.5,1412.0 L1742.0,1409.9 L1743.7,1336.3 L1745.0,1396.2 L1746.5,1437.6 L1748.0,1396.9 L1749.5,1411.2 L1751.0,1395.4 L1752.5,1421.7 L1754.0,1389.3 L1755.5,1415.2 L1757.0,1422.5 L1758.5,1432.2 L1760.7,1450.8 L1761.5,1452.6 L1763.0,1428.8 L1764.5,1407.4 L1766.0,1427.4 L1767.5,1439.9 L1769.0,1421.5 L1770.5,1400.0 L1772.0,1388.4 L1773.5,1428.4 L1775.0,1401.5 L1776.5,1453.4 L1778.0,1434.0 L1779.5,1390.8 L1781.0,1401.9 L1782.0,1501.7 L1784.0,1447.7 L1785.5,1388.0 L1787.0,1406.8 L1788.5,1417.5 L1790.0,1417.7 L1791.5,1411.4 L1793.0,1415.0 L1794.5,1399.2 L1795.7,1390.5 L1797.5,1398.0 L1799.0,1420.1 L1800.5,1391.8 L1802.0,1394.2 L1803.5,1415.7 L1805.0,1411.1 L1806.5,1394.8 L1808.0,1400.0 L1809.5,1402.8 L1811.0,1424.1 L1812.5,1401.8 L1814.0,1427.0 L1815.5,1415.0 L1817.0,1426.7 L1818.5,1429.3 L1820.2,1516.4 L1821.5,1407.5 L1823.0,1463.1 L1824.5,1430.1 L1826.0,1423.9 L1827.5,1436.9 L1829.0,1425.9 L1830.5,1431.1 L1832.0,1441.6 L1833.5,1435.5 L1835.0,1429.6 L1836.5,1441.0 L1838.0,1420.4 L1839.5,1465.1 L1841.4,1516.5 L1842.5,1449.6 L1844.0,1452.8 L1845.5,1455.9 L1847.0,1421.3 L1848.5,1438.8 L1850.0,1406.4 L1851.5,1441.7 L1853.0,1423.2 L1854.5,1445.7 L1856.0,1462.3 L1857.5,1463.5 L1859.4,1550.2 L1860.5,1447.5 L1862.0,1440.8 L1863.5,1463.3 L1864.8,1425.7 L1866.5,1495.6 L1868.0,1439.9 L1869.5,1457.8 L1871.0,1441.7 L1872.5,1462.8 L1874.0,1430.0 L1875.5,1448.0 L1877.0,1416.0 L1878.5,1462.2 L1880.0,1437.9 L1881.5,1459.9 L1882.8,1506.3 L1884.5,1442.6 L1886.0,1469.3 L1888.0,1427.7 L1889.0,1471.1 L1890.5,1452.8 L1892.0,1468.7 L1893.5,1442.9 L1895.0,1465.9 L1896.6,1606.4 L1898.0,1488.3 L1899.5,1450.6 L1901.0,1468.8 L1902.5,1456.7 L1904.0,1458.1 L1905.5,1482.3 L1907.2,1447.0 L1908.5,1454.2 L1910.0,1451.2 L1911.5,1486.8 L1913.0,1473.0 L1914.5,1493.0 L1916.0,1470.8 L1917.5,1491.8 L1919.0,1469.5 L1920.5,1504.0 L1922.0,1474.3 L1923.5,1483.9 L1925.3,1523.1 L1926.5,1493.7 L1928.0,1476.4 L1929.5,1513.5 L1931.0,1480.1 L1932.7,1454.4 L1934.0,1488.2 L1935.5,1515.0 L1937.0,1490.8 L1938.5,1500.7 L1940.0,1483.7 L1941.5,1523.2 L1943.0,1489.7 L1944.5,1532.1 L1946.0,1493.2 L1947.5,1516.0 L1949.0,1482.2 L1950.5,1503.0 L1951.8,1715.0 L1953.5,1514.3 L1955.0,1512.7 L1956.5,1497.0 L1958.0,1534.7 L1959.5,1500.2 L1961.0,1517.2 L1962.5,1495.5 L1963.9,1488.1 L1965.5,1503.3 L1967.0,1524.6 L1968.5,1551.7 L1970.0,1488.0 L1971.8,1556.3 L1973.0,1498.8 L1974.5,1504.9 L1976.0,1534.5 L1977.5,1504.6 L1979.0,1533.7 L1979.8,1501.8 L1982.0,1539.1 L1983.5,1512.0 L1985.0,1567.1 L1986.5,1518.6 L1988.0,1543.3 L1989.5,1502.3 L1991.0,1537.0 L1992.5,1501.7 L1994.0,1535.3 L1995.5,1541.5 L1997.0,1502.2 L1998.5,1530.2 L2000.0,1495.9 L2001.0,1470.7 L2003.7,1627.7 L2004.5,1537.8 L2006.0,1544.3 L2007.5,1529.5 L2009.0,1547.5 L2010.5,1533.6 L2012.0,1546.0 L2013.5,1538.4 L2015.6,1629.5 L2016.5,1530.9 L2018.0,1558.2 L2019.5,1565.6 L2021.0,1527.6 L2022.5,1584.8 L2024.0,1612.3 L2025.5,1556.4 L2027.0,1621.6 L2028.5,1567.1 L2030.0,1566.2 L2031.5,1610.4 L2033.0,1560.5 L2034.5,1569.6 L2036.0,1570.6 L2037.5,1589.2 L2039.0,1557.6 L2040.5,1586.6 L2042.0,1562.1 L2043.5,1578.2 L2045.0,1581.0 L2046.5,1568.3 L2047.5,1544.0 L2049.5,1566.9 L2051.0,1615.2 L2052.5,1564.4 L2054.0,1582.5 L2055.5,1581.7 L2057.0,1538.2 L2058.5,1586.0 L2060.0,1568.8 L2061.5,1551.9 L2063.0,1573.6 L2064.7,1667.3 L2066.0,1575.2 L2067.5,1566.2 L2069.0,1565.8 L2070.5,1576.0 L2072.0,1576.9 L2073.5,1574.7 L2075.0,1567.8 L2076.5,1577.3 L2078.0,1576.7 L2079.5,1597.5 L2081.0,1575.7 L2082.5,1572.9 L2084.0,1588.9 L2085.5,1576.2 L2087.0,1572.2 L2088.5,1575.1 L2090.0,1560.3 L2091.5,1582.3 L2093.0,1564.5 L2094.5,1578.7 L2096.0,1591.6 L2097.5,1575.0 L2099.2,1856.7 L2100.5,1576.9 L2102.0,1590.1 L2103.5,1582.5 L2105.0,1580.9 L2106.5,1586.0 L2108.0,1574.8 L2109.5,1576.8 L2111.0,1577.0 L2112.5,1584.5 L2114.0,1575.0 L2115.5,1580.5 L2117.0,1575.4 L2118.5,1581.6 L2120.0,1593.4 L2121.5,1592.0 L2123.0,1593.8 L2124.5,1588.6 L2126.0,1614.2 L2127.5,1599.4 L2129.0,1594.8 L2130.5,1594.1 L2132.0,1590.0 L2133.5,1596.9 L2135.0,1594.7 L2136.5,1585.9 L2138.0,1605.0 L2139.5,1599.3 L2141.0,1609.3 L2142.5,1595.8 L2144.0,1600.2 L2145.5,1595.9 L2147.0,1836.8 L2148.5,1636.5 L2150.0,1613.5 L2151.5,1617.3 L2153.0,1606.6 L2154.5,1607.8 L2156.0,1610.1 L2157.5,1589.1 L2159.0,1617.9 L2160.5,1629.8 L2162.0,1597.4 L2163.5,1626.7 L2165.0,1610.5 L2166.5,1609.1 L2168.0,1633.3 L2169.5,1611.5 L2171.0,1618.0 L2172.5,1608.2 L2174.0,1619.1 L2175.5,1634.5 L2177.0,1613.8 L2178.5,1652.9 L2180.0,1621.0 L2181.5,1611.5 L2183.0,1640.7 L2184.5,1640.4 L2186.0,1632.9 L2187.5,1636.6 L2189.4,1814.0 L2190.5,1645.0 L2192.0,1635.8 L2193.5,1642.3 L2195.0,1673.8 L2196.5,1661.5 L2198.0,1637.1 L2199.5,1633.9 L2201.0,1640.0 L2202.5,1641.8 L2204.0,1639.6 L2205.5,1662.3 L2207.0,1661.2 L2208.5,1651.9 L2210.0,1643.2 L2211.5,1645.4 L2213.0,1649.0 L2214.5,1662.4 L2216.0,1663.1 L2217.5,1674.3 L2219.0,1655.6 L2220.0,1697.9 L2222.0,1671.7 L2223.5,1675.1 L2225.0,1693.2 L2226.5,1675.4 L2228.0,1664.1 L2229.5,1702.5 L2231.0,1662.5 L2232.5,1703.7 L2234.0,1666.7" stroke="#c8c8c8" stroke-width="3" fill="none" stroke-linejoin="round" stroke-linecap="butt"/>
<path d="M552.4,1569.8 L553.5,1614.8 L555.0,1586.5 L556.5,1596.9 L558.0,1585.0 L559.5,1606.5 L561.0,1603.4 L562.5,1605.6 L564.0,1590.5 L565.5,1625.3 L567.0,1590.7 L568.5,1614.1 L570.0,1608.1 L571.5,1597.3 L573.0,1618.6 L574.5,1575.9 L576.0,1617.1 L577.5,1597.9 L579.0,1627.0 L580.5,1629.6 L582.0,1590.3 L583.5,1617.2 L585.0,1572.9 L586.5,1611.1 L588.0,1584.4 L589.5,1613.3 L591.0,1578.7 L592.5,1591.9 L594.0,1611.9 L595.5,1580.9 L597.0,1601.9 L598.5,1616.9 L600.0,1596.3 L601.5,1596.4 L603.0,1592.4 L604.5,1605.5 L606.0,1613.6 L607.6,1639.0 L609.0,1614.3 L610.5,1601.5 L612.0,1617.7 L613.5,1614.5 L615.0,1580.6 L616.5,1606.3 L618.0,1586.7 L619.8,1576.0 L621.0,1562.0 L622.5,1605.4 L624.0,1607.9 L625.5,1585.2 L627.0,1610.5 L628.5,1594.1 L630.0,1632.5 L631.0,1645.0 L633.0,1623.1 L635.0,1478.0 L636.0,1609.4 L637.5,1599.8 L639.0,1624.4 L641.2,1614.7 L642.0,1615.3 L643.5,1598.7 L645.0,1640.8 L646.5,1586.2 L648.0,1611.9 L649.5,1641.0 L650.4,1674.0 L652.5,1635.5 L654.0,1600.7 L655.5,1633.9 L657.0,1612.0 L658.6,1576.0 L660.0,1612.5 L661.6,1661.6 L663.0,1584.4 L664.5,1620.6 L666.0,1584.4 L667.8,1571.8 L669.0,1602.4 L670.5,1620.5 L672.0,1597.5 L673.5,1576.2 L675.0,1612.0 L676.5,1582.4 L678.0,1631.3 L679.5,1609.6 L681.0,1619.1 L682.5,1632.1 L684.0,1607.8 L685.0,1645.0 L687.0,1628.9 L688.5,1613.7 L690.0,1650.4 L691.2,1588.0 L693.0,1643.6 L694.5,1665.8 L695.3,1667.8 L697.5,1672.4 L699.0,1652.1 L700.5,1672.3 L702.0,1662.0 L703.5,1668.8 L705.0,1668.5 L706.5,1668.6 L708.0,1638.3 L709.5,1666.3 L711.0,1669.4 L712.5,1655.6 L714.0,1670.4 L715.5,1652.5 L717.0,1669.6 L718.5,1655.3 L720.0,1668.0 L720.8,1635.0 L723.0,1635.9 L724.5,1682.3 L726.0,1663.6 L728.0,1678.0 L729.0,1659.9 L730.5,1665.1 L732.0,1667.5 L733.5,1654.6 L735.0,1670.2 L736.5,1664.1 L738.2,1637.0 L740.2,1665.7 L741.0,1635.7 L742.5,1638.3 L744.0,1638.9 L745.5,1671.8 L747.0,1636.9 L748.5,1635.7 L750.4,1625.0 L751.5,1648.2 L753.0,1628.6 L754.5,1648.0 L756.0,1648.7 L757.5,1628.9 L759.0,1652.6 L760.5,1611.1 L762.7,1653.5 L763.5,1618.4 L765.0,1638.0 L766.7,1625.0 L768.0,1614.5 L769.5,1639.9 L770.8,1655.5 L772.5,1632.7 L774.0,1634.9 L775.5,1651.1 L777.0,1606.5 L778.5,1616.7 L780.0,1638.8 L781.5,1619.2 L783.0,1633.5 L784.5,1639.5 L786.0,1602.0 L787.5,1642.3 L789.0,1614.1 L790.5,1609.6 L792.0,1616.1 L793.5,1642.8 L795.0,1594.2 L796.5,1608.6 L798.0,1618.1 L799.5,1621.4 L801.0,1600.4 L802.5,1620.1 L804.0,1591.2 L805.5,1602.9 L807.0,1602.6 L808.5,1619.2 L809.6,1590.0 L811.5,1628.2 L813.0,1604.0 L814.5,1618.8 L816.0,1593.6 L817.5,1611.1 L819.0,1597.8 L820.5,1616.5 L822.0,1595.7 L823.9,1578.0 L825.0,1613.1 L826.5,1598.7 L828.0,1594.9 L829.5,1590.7 L831.0,1571.1 L832.5,1610.0 L834.0,1593.2 L835.5,1608.7 L837.0,1588.0 L838.5,1603.4 L840.0,1581.8 L842.2,1561.6 L843.0,1581.7 L844.5,1596.0 L846.0,1583.6 L847.5,1600.2 L849.0,1586.4 L850.5,1598.4 L852.0,1580.6 L853.5,1597.2 L855.0,1568.6 L856.5,1565.8 L858.0,1577.5 L859.5,1579.3 L861.0,1563.5 L862.7,1557.6 L864.0,1573.9 L865.5,1591.0 L867.0,1591.1 L868.5,1582.0 L870.0,1584.2 L871.5,1560.2 L873.0,1578.3 L874.5,1568.0 L876.0,1567.2 L877.5,1560.8 L879.0,1578.0 L881.0,1547.3 L882.0,1584.4 L883.5,1575.9 L885.0,1557.4 L886.5,1572.8 L888.0,1573.4 L889.5,1564.0 L891.0,1558.6 L892.5,1566.8 L894.0,1554.0 L895.5,1539.8 L897.0,1571.0 L898.5,1566.6 L900.0,1543.7 L901.5,1546.6 L903.0,1557.5 L904.5,1530.0 L906.0,1555.2 L907.6,1512.7 L909.0,1535.3 L910.5,1519.3 L912.0,1555.2 L913.5,1550.1 L915.0,1549.2 L916.5,1541.6 L918.0,1552.1 L919.5,1542.1 L921.0,1528.3 L922.5,1541.7 L924.0,1527.6 L925.5,1543.1 L927.0,1527.4 L928.5,1524.0 L930.0,1530.0 L931.5,1539.5 L933.0,1538.4 L934.5,1533.4 L936.0,1540.0 L937.5,1519.2 L938.8,1563.0 L940.5,1527.1 L942.0,1517.8 L943.5,1530.1 L945.0,1511.8 L946.5,1530.9 L948.0,1526.9 L949.5,1516.2 L951.0,1500.9 L952.5,1529.6 L954.0,1514.2 L955.5,1529.2 L957.0,1518.8 L958.5,1542.9 L960.0,1520.0 L961.5,1496.4 L963.0,1532.2 L964.5,1510.1 L966.0,1527.9 L967.5,1508.3 L969.0,1527.5 L970.5,1514.7 L972.0,1529.4 L973.5,1522.9 L975.0,1523.5 L976.5,1518.3 L978.0,1521.3 L979.5,1520.7 L981.0,1518.7 L982.5,1530.7 L984.0,1517.4 L985.5,1513.9 L987.0,1533.5 L988.5,1532.2 L990.0,1530.8 L991.5,1523.9 L993.0,1524.2 L994.5,1533.3 L996.0,1509.9 L997.4,1483.0 L999.0,1512.6 L1001.0,1558.0 L1002.0,1510.4 L1003.5,1515.4 L1005.0,1509.9 L1006.5,1494.7 L1008.0,1528.1 L1009.5,1524.1 L1011.0,1531.2 L1012.5,1524.1 L1014.0,1520.5 L1015.5,1514.3 L1017.0,1538.2 L1018.5,1517.2 L1020.0,1506.4 L1021.5,1524.0 L1023.0,1515.6 L1024.5,1540.1 L1026.0,1512.4 L1027.5,1508.5 L1029.0,1527.4 L1030.5,1524.9 L1032.0,1497.4 L1033.5,1541.2 L1035.0,1511.2 L1036.5,1525.4 L1038.0,1509.3 L1039.5,1523.3 L1041.0,1498.6 L1042.5,1519.0 L1044.0,1511.4 L1045.5,1518.4 L1047.0,1508.1 L1048.5,1511.7 L1050.0,1518.1 L1051.5,1504.7 L1053.0,1519.7 L1054.5,1507.0 L1056.0,1521.1 L1057.5,1493.7 L1059.0,1520.2 L1060.5,1509.9 L1062.0,1508.7 L1063.5,1532.2 L1065.0,1521.1 L1066.5,1516.8 L1068.0,1523.4 L1069.5,1516.1 L1071.0,1517.0 L1072.5,1509.9 L1074.0,1514.5 L1075.5,1508.1 L1077.0,1515.6 L1078.5,1487.6 L1080.0,1528.7 L1081.5,1488.4 L1083.0,1497.0 L1084.3,1553.7 L1086.0,1527.1 L1087.5,1500.7 L1089.0,1509.4 L1090.0,1469.0 L1092.0,1507.6 L1093.5,1495.8 L1095.0,1505.3 L1096.5,1491.3 L1098.0,1510.4 L1099.5,1492.6 L1101.0,1502.8 L1102.5,1488.8 L1104.0,1496.8 L1105.5,1488.4 L1107.0,1492.9 L1108.5,1489.0 L1110.0,1501.6 L1111.5,1492.1 L1113.0,1490.0 L1114.5,1501.5 L1116.0,1511.2 L1117.5,1503.0 L1119.0,1513.4 L1120.5,1502.5 L1122.0,1515.2 L1123.5,1498.0 L1125.0,1489.0 L1126.5,1529.1 L1128.0,1506.8 L1129.5,1516.2 L1131.0,1493.1 L1132.5,1517.2 L1134.0,1486.5 L1135.5,1516.1 L1137.0,1527.7 L1138.5,1508.5 L1140.0,1525.1 L1141.5,1509.9 L1143.0,1516.4 L1144.5,1521.7 L1146.0,1507.1 L1147.5,1510.3 L1149.0,1504.3 L1150.5,1523.2 L1152.0,1503.3 L1153.5,1512.5 L1155.0,1519.8 L1156.5,1513.9 L1158.0,1499.7 L1159.5,1512.6 L1161.0,1498.2 L1162.5,1499.7 L1164.0,1494.0 L1165.5,1512.2 L1166.4,1464.5 L1168.5,1490.6 L1170.0,1495.2 L1171.5,1492.5 L1173.0,1507.1 L1174.5,1474.8 L1176.0,1485.9 L1177.5,1507.3 L1179.0,1494.3 L1180.5,1502.0 L1182.0,1511.0 L1183.5,1497.5 L1185.0,1499.9 L1186.5,1508.8 L1188.0,1512.7 L1189.5,1496.1 L1191.0,1492.8 L1192.5,1512.0 L1194.0,1486.3 L1195.5,1502.8 L1197.0,1483.5 L1198.5,1487.4 L1200.0,1487.3 L1201.5,1502.8 L1203.0,1469.5 L1204.5,1505.6 L1206.0,1507.5 L1207.5,1490.5 L1209.0,1495.2 L1210.5,1483.4 L1212.0,1482.0 L1213.5,1494.6 L1215.0,1464.2 L1216.5,1480.2 L1218.0,1488.6 L1219.5,1489.6 L1221.0,1487.8 L1222.5,1478.3 L1224.0,1460.2 L1225.5,1490.1 L1227.0,1506.3 L1228.5,1474.1 L1230.0,1488.3 L1231.5,1491.6 L1233.0,1487.2 L1234.5,1520.8 L1236.0,1470.4 L1237.5,1483.6 L1239.0,1470.6 L1240.5,1470.8 L1242.0,1475.4 L1243.5,1475.3 L1245.0,1468.9 L1246.5,1476.3 L1248.0,1479.8 L1249.5,1460.2 L1251.0,1488.4 L1252.5,1468.1 L1254.0,1466.6 L1255.5,1491.6 L1257.0,1461.1 L1258.5,1489.0 L1260.0,1464.9 L1261.5,1463.6 L1263.0,1479.1 L1264.5,1480.0 L1266.0,1490.0 L1267.5,1465.0 L1269.0,1473.2 L1270.5,1453.1 L1272.0,1472.5 L1273.5,1454.6 L1275.0,1478.7 L1276.5,1468.4 L1278.0,1478.3 L1279.5,1469.8 L1281.4,1436.3 L1282.5,1478.0 L1284.0,1463.7 L1285.5,1463.6 L1287.0,1460.6 L1288.5,1472.5 L1290.0,1451.7 L1291.5,1467.2 L1293.0,1492.6 L1294.5,1459.9 L1296.0,1465.2 L1297.5,1467.3 L1299.0,1472.6 L1300.5,1462.4 L1302.0,1477.5 L1303.5,1440.1 L1305.0,1471.1 L1306.5,1453.9 L1308.0,1457.3 L1309.5,1457.6 L1311.0,1491.4 L1312.5,1453.1 L1314.0,1462.1 L1315.5,1484.1 L1317.0,1462.7 L1318.5,1471.8 L1320.0,1452.1 L1321.5,1453.3 L1323.0,1464.8 L1324.5,1455.5 L1326.0,1454.2 L1327.5,1447.1 L1329.0,1466.5 L1330.5,1444.6 L1332.0,1442.3 L1333.5,1455.7 L1335.0,1436.5 L1336.5,1455.8 L1338.0,1425.5 L1339.5,1451.9 L1341.0,1434.5 L1342.4,1478.6 L1344.0,1431.7 L1345.5,1438.4 L1347.0,1449.6 L1348.5,1434.6 L1350.0,1459.2 L1351.5,1430.8 L1353.0,1443.2 L1354.2,1422.2" stroke="#1a1a1a" stroke-width="3" fill="none" stroke-linejoin="round" stroke-linecap="butt"/>
<path d="M1703.4,1382.8 L1704.5,1426.7 L1706.0,1423.1 L1707.5,1423.5 L1709.0,1416.2 L1710.5,1416.2 L1712.0,1406.2 L1713.5,1415.1 L1715.0,1434.2 L1717.2,1482.6 L1718.0,1406.5 L1719.5,1428.4 L1720.3,1391.3 L1722.5,1434.8 L1724.0,1468.9 L1725.5,1437.6 L1727.0,1468.9 L1728.5,1469.6 L1730.0,1453.9 L1731.5,1417.4 L1733.0,1472.0 L1734.5,1453.1 L1736.0,1445.5 L1737.5,1429.0 L1739.0,1447.0 L1740.5,1452.6 L1742.0,1449.6 L1743.7,1378.6 L1745.0,1435.2 L1746.5,1477.6 L1748.0,1432.5 L1749.5,1448.7 L1751.0,1429.5 L1752.5,1458.1 L1754.0,1424.6 L1755.5,1452.2 L1757.0,1460.8 L1758.5,1466.8 L1760.7,1486.9 L1761.5,1485.7 L1763.0,1464.0 L1764.5,1442.8 L1766.0,1467.1 L1767.5,1474.2 L1769.0,1459.9 L1770.5,1440.9 L1772.0,1429.9 L1773.5,1468.8 L1775.0,1440.9 L1776.5,1490.2 L1778.0,1473.1 L1779.5,1432.1 L1781.0,1436.0 L1782.0,1548.5 L1784.0,1491.2 L1785.5,1429.1 L1787.0,1447.0 L1788.5,1455.4 L1790.0,1450.5 L1791.5,1443.2 L1793.0,1450.2 L1794.5,1438.1 L1795.7,1427.4 L1797.5,1435.5 L1799.0,1457.8 L1800.5,1432.6 L1802.0,1429.2 L1803.5,1448.2 L1805.0,1444.4 L1806.5,1434.3 L1808.0,1435.1 L1809.5,1441.3 L1811.0,1457.1 L1812.5,1437.3 L1814.0,1457.5 L1815.5,1446.8 L1817.0,1465.2 L1818.5,1465.6 L1820.2,1557.0 L1821.5,1442.2 L1823.0,1499.6 L1824.5,1464.7 L1826.0,1455.1 L1827.5,1466.3 L1829.0,1459.3 L1830.5,1459.9 L1832.0,1474.1 L1833.5,1472.8 L1835.0,1459.7 L1836.5,1474.8 L1838.0,1457.8 L1839.5,1493.2 L1841.4,1564.4 L1842.5,1481.4 L1844.0,1485.5 L1845.5,1484.4 L1847.0,1454.6 L1848.5,1473.8 L1850.0,1440.6 L1851.5,1476.6 L1853.0,1454.3 L1854.5,1478.8 L1856.0,1491.4 L1857.5,1497.5 L1859.4,1596.2 L1860.5,1481.1 L1862.0,1467.1 L1863.5,1490.8 L1864.8,1453.0 L1866.5,1528.2 L1868.0,1471.5 L1869.5,1491.8 L1871.0,1468.7 L1872.5,1493.1 L1874.0,1464.7 L1875.5,1481.2 L1877.0,1449.9 L1878.5,1489.7 L1880.0,1463.5 L1881.5,1492.4 L1882.8,1536.8 L1884.5,1473.6 L1886.0,1496.6 L1888.0,1453.0 L1889.0,1498.8 L1890.5,1478.6 L1892.0,1498.6 L1893.5,1476.3 L1895.0,1494.2 L1896.6,1654.6 L1898.0,1520.1 L1899.5,1479.7 L1901.0,1498.4 L1902.5,1489.0 L1904.0,1487.3 L1905.5,1510.6 L1907.2,1474.0 L1908.5,1478.8 L1910.0,1478.6 L1911.5,1508.1 L1913.0,1495.6 L1914.5,1514.4 L1916.0,1494.2 L1917.5,1515.2 L1919.0,1494.0 L1920.5,1525.6 L1922.0,1500.0 L1923.5,1507.1 L1925.3,1546.3 L1926.5,1517.0 L1928.0,1501.9 L1929.5,1541.3 L1931.0,1507.0 L1932.7,1478.4 L1934.0,1509.7 L1935.5,1534.5 L1937.0,1510.5 L1938.5,1524.2 L1940.0,1500.7 L1941.5,1547.7 L1943.0,1508.4 L1944.5,1559.1 L1946.0,1511.0 L1947.5,1534.4 L1949.0,1497.4 L1950.5,1518.6 L1951.8,1763.7 L1953.5,1530.0 L1955.0,1529.1 L1956.5,1514.5 L1958.0,1555.9 L1959.5,1518.1 L1961.0,1531.2 L1962.5,1515.8 L1963.9,1501.0 L1965.5,1520.4 L1967.0,1543.1 L1968.5,1575.0 L1970.0,1506.2 L1971.8,1578.0 L1973.0,1514.2 L1974.5,1517.6 L1976.0,1546.9 L1977.5,1520.0 L1979.0,1551.1 L1979.8,1522.0 L1982.0,1553.3 L1983.5,1527.4 L1985.0,1582.1 L1986.5,1535.5 L1988.0,1555.0 L1989.5,1520.6 L1991.0,1554.2 L1992.5,1519.2 L1994.0,1549.1 L1995.5,1552.4 L1997.0,1520.2 L1998.5,1543.5 L2000.0,1507.7 L2001.0,1487.8 L2003.7,1660.0 L2004.5,1551.2 L2006.0,1554.9 L2007.5,1539.5 L2009.0,1558.9 L2010.5,1548.0 L2012.0,1560.1 L2013.5,1551.3 L2015.6,1647.0 L2016.5,1545.9 L2018.0,1573.3 L2019.5,1577.3 L2021.0,1535.5 L2022.5,1600.3 L2024.0,1631.7 L2025.5,1572.4 L2027.0,1635.0 L2028.5,1577.9 L2030.0,1581.1 L2031.5,1625.1 L2033.0,1571.0 L2034.5,1579.5 L2036.0,1580.0 L2037.5,1598.0 L2039.0,1572.9 L2040.5,1597.6 L2042.0,1569.5 L2043.5,1584.2 L2045.0,1593.3 L2046.5,1575.1 L2047.5,1552.8 L2049.5,1572.7 L2051.0,1630.6 L2052.5,1572.3 L2054.0,1588.8 L2055.5,1591.6 L2057.0,1551.8 L2058.5,1598.6 L2060.0,1581.7 L2061.5,1565.4 L2063.0,1586.3 L2064.7,1688.0 L2066.0,1588.2 L2067.5,1572.7 L2069.0,1572.4 L2070.5,1581.7 L2072.0,1582.6 L2073.5,1581.2 L2075.0,1572.2 L2076.5,1581.2 L2078.0,1583.8 L2079.5,1602.0 L2081.0,1587.9 L2082.5,1585.0 L2084.0,1601.7 L2085.5,1587.1 L2087.0,1581.3 L2088.5,1583.3 L2090.0,1566.2 L2091.5,1587.5 L2093.0,1576.2 L2094.5,1587.1 L2096.0,1598.5 L2097.5,1583.5 L2099.2,1915.0 L2100.5,1583.1 L2102.0,1598.3 L2103.5,1587.6 L2105.0,1587.8 L2106.5,1588.2 L2108.0,1577.1 L2109.5,1587.7 L2111.0,1581.0 L2112.5,1588.7 L2114.0,1583.4 L2115.5,1590.6 L2117.0,1581.8 L2118.5,1589.2 L2120.0,1597.0 L2121.5,1593.8 L2123.0,1601.0 L2124.5,1596.6 L2126.0,1621.1 L2127.5,1603.3 L2129.0,1597.8 L2130.5,1599.1 L2132.0,1597.8 L2133.5,1604.3 L2135.0,1596.9 L2136.5,1591.4 L2138.0,1615.2 L2139.5,1605.7 L2141.0,1617.6 L2142.5,1599.7 L2144.0,1610.1 L2145.5,1603.8 L2147.0,1885.7 L2148.5,1645.4 L2150.0,1614.2 L2151.5,1622.3 L2153.0,1613.1 L2154.5,1608.9 L2156.0,1619.6 L2157.5,1595.9 L2159.0,1620.2 L2160.5,1641.6 L2162.0,1600.0 L2163.5,1633.3 L2165.0,1620.5 L2166.5,1616.8 L2168.0,1639.2 L2169.5,1617.8 L2171.0,1623.0 L2172.5,1617.8 L2174.0,1627.0 L2175.5,1634.8 L2177.0,1619.4 L2178.5,1660.0 L2180.0,1630.1 L2181.5,1618.6 L2183.0,1641.1 L2184.5,1643.4 L2186.0,1637.7 L2187.5,1645.9 L2189.4,1848.6 L2190.5,1647.0 L2192.0,1641.2 L2193.5,1646.1 L2195.0,1677.3 L2196.5,1665.8 L2198.0,1640.4 L2199.5,1643.2 L2201.0,1649.4 L2202.5,1643.7 L2204.0,1645.0 L2205.5,1663.4 L2207.0,1662.5 L2208.5,1652.2 L2210.0,1648.9 L2211.5,1644.8 L2213.0,1650.8 L2214.5,1662.9 L2216.0,1670.9 L2217.5,1675.8 L2219.0,1660.7 L2220.0,1697.4 L2222.0,1671.0 L2223.5,1682.1 L2225.0,1698.1 L2226.5,1681.8 L2228.0,1668.5 L2229.5,1710.5 L2231.0,1664.9 L2232.5,1714.6 L2234.0,1674.0" stroke="#1a1a1a" stroke-width="3" fill="none" stroke-linejoin="round" stroke-linecap="butt"/>
<line x1="1459" y1="154" x2="1613" y2="154" stroke="#d8151c" stroke-width="5"/>
<line x1="1459" y1="235" x2="1613" y2="235" stroke="#137a13" stroke-width="5"/>
<line x1="1478" y1="1182.4" x2="1626.5" y2="1182.4" stroke="#c8c8c8" stroke-width="3.2"/>
<line x1="1478" y1="1261" x2="1626.5" y2="1261" stroke="#3a3a3a" stroke-width="3.4"/>
<text stroke="#fff" stroke-width="0.6"><tspan x="255.0" y="121.8" font-size="84" textLength="105.8" lengthAdjust="spacingAndGlyphs">0.8</tspan></text>
<text stroke="#fff" stroke-width="0.6"><tspan x="255.0" y="292.8" font-size="84" textLength="104.7" lengthAdjust="spacingAndGlyphs">0.6</tspan></text>
<text stroke="#fff" stroke-width="0.6"><tspan x="255.0" y="463.0" font-size="84" textLength="103.7" lengthAdjust="spacingAndGlyphs">0.4</tspan></text>
<text stroke="#fff" stroke-width="0.6"><tspan x="254.9" y="631.0" font-size="84" textLength="106.9" lengthAdjust="spacingAndGlyphs">0.2</tspan></text>
<text stroke="#fff" stroke-width="0.6"><tspan x="255.0" y="802.4" font-size="84" textLength="105.8" lengthAdjust="spacingAndGlyphs">0.0</tspan></text>
<text stroke="#fff" stroke-width="0.6"><tspan x="193.8" y="976.5" font-size="84" textLength="59.9" lengthAdjust="spacingAndGlyphs" stroke="#000" stroke-width="1.6">−</tspan> <tspan x="253.9" y="972.0" font-size="84" textLength="104.8" lengthAdjust="spacingAndGlyphs">0.2</tspan></text>
<text stroke="#fff" stroke-width="0.6"><tspan x="256.4" y="1146.7" font-size="84" textLength="103.5" lengthAdjust="spacingAndGlyphs">0.8</tspan></text>
<text stroke="#fff" stroke-width="0.6"><tspan x="256.4" y="1292.0" font-size="84" textLength="103.5" lengthAdjust="spacingAndGlyphs">0.6</tspan></text>
<text stroke="#fff" stroke-width="0.6"><tspan x="256.5" y="1440.5" font-size="84" textLength="101.4" lengthAdjust="spacingAndGlyphs">0.4</tspan></text>
<text stroke="#fff" stroke-width="0.6"><tspan x="256.3" y="1586.4" font-size="84" textLength="105.6" lengthAdjust="spacingAndGlyphs">0.2</tspan></text>
<text stroke="#fff" stroke-width="0.6"><tspan x="256.4" y="1727.0" font-size="84" textLength="103.5" lengthAdjust="spacingAndGlyphs">0.0</tspan></text>
<text stroke="#fff" stroke-width="0.6"><tspan x="193.8" y="1881.4" font-size="84" textLength="59.0" lengthAdjust="spacingAndGlyphs" stroke="#000" stroke-width="1.6">−</tspan> <tspan x="253.5" y="1876.9" font-size="84" textLength="105.0" lengthAdjust="spacingAndGlyphs">0.2</tspan></text>
<text stroke="#fff" stroke-width="0.6"><tspan x="193.8" y="2023.1" font-size="84" textLength="59.4" lengthAdjust="spacingAndGlyphs" stroke="#000" stroke-width="1.6">−</tspan> <tspan x="253.6" y="2018.6" font-size="84" textLength="102.2" lengthAdjust="spacingAndGlyphs">0.4</tspan></text>
<text stroke="#fff" stroke-width="0.6"><tspan x="599.8" y="1069.5" font-size="83" textLength="124.0" lengthAdjust="spacingAndGlyphs">800</tspan></text>
<text stroke="#fff" stroke-width="0.6"><tspan x="1340.1" y="1069.5" font-size="83" textLength="167.3" lengthAdjust="spacingAndGlyphs">1000</tspan></text>
<text stroke="#fff" stroke-width="0.6"><tspan x="2106.2" y="1069.5" font-size="83" textLength="165.2" lengthAdjust="spacingAndGlyphs">1200</tspan></text>
<text stroke="#fff" stroke-width="0.6"><tspan x="599.8" y="2120.5" font-size="83" textLength="124.0" lengthAdjust="spacingAndGlyphs">800</tspan></text>
<text stroke="#fff" stroke-width="0.6"><tspan x="1340.1" y="2120.5" font-size="83" textLength="167.3" lengthAdjust="spacingAndGlyphs">1000</tspan></text>
<text stroke="#fff" stroke-width="0.6"><tspan x="2106.2" y="2120.5" font-size="83" textLength="165.2" lengthAdjust="spacingAndGlyphs">1200</tspan></text>
<text stroke="#fff" stroke-width="0.6"><tspan x="1626.5" y="186.5" font-size="66" textLength="636.9" lengthAdjust="spacingAndGlyphs">Before LSE Correction</tspan></text>
<text stroke="#fff" stroke-width="0.6"><tspan x="1625.1" y="268.0" font-size="66" textLength="603.4" lengthAdjust="spacingAndGlyphs">After LSE Correction</tspan></text>
<text stroke="#fff" stroke-width="0.6"><tspan x="1641.9" y="1213.7" font-size="66" textLength="640.5" lengthAdjust="spacingAndGlyphs">Before LSE Correction</tspan></text>
<text stroke="#fff" stroke-width="0.6"><tspan x="1642.8" y="1295.0" font-size="66" textLength="603.4" lengthAdjust="spacingAndGlyphs">After LSE Correction</tspan></text>
<text font-weight="bold" fill="#7f1015" stroke="#fff" stroke-width="1.2"><tspan x="1378.7" y="534.5" font-size="65" textLength="151.3" lengthAdjust="spacingAndGlyphs">Clear</tspan> <tspan x="1553.3" y="534.5" font-size="65" textLength="100.8" lengthAdjust="spacingAndGlyphs">sky</tspan></text>
<text font-weight="bold" fill="#7f1015" stroke="#fff" stroke-width="1.2"><tspan x="1279.7" y="624.5" font-size="65" textLength="171.3" lengthAdjust="spacingAndGlyphs">above</tspan> <tspan x="1476.0" y="624.5" font-size="65" textLength="88.1" lengthAdjust="spacingAndGlyphs">the</tspan> <tspan x="1586.1" y="624.5" font-size="65" textLength="178.0" lengthAdjust="spacingAndGlyphs">desert</tspan></text>
<text font-weight="bold" stroke="#fff" stroke-width="1.2"><tspan x="1329.7" y="1573.5" font-size="65" textLength="231.2" lengthAdjust="spacingAndGlyphs">Mineral</tspan> <tspan x="1584.9" y="1573.5" font-size="65" textLength="126.1" lengthAdjust="spacingAndGlyphs">dust</tspan></text>
<text font-weight="bold" stroke="#fff" stroke-width="1.2"><tspan x="1282.5" y="1661.0" font-size="65" textLength="170.4" lengthAdjust="spacingAndGlyphs">above</tspan> <tspan x="1480.0" y="1661.0" font-size="65" textLength="85.1" lengthAdjust="spacingAndGlyphs">the</tspan> <tspan x="1588.5" y="1661.0" font-size="65" textLength="177.1" lengthAdjust="spacingAndGlyphs">desert</tspan></text>
<text stroke="#fff" stroke-width="0.6"><tspan x="2250.3" y="872.3" font-size="92" textLength="101.0" lengthAdjust="spacingAndGlyphs">(a)</tspan></text>
<text stroke="#fff" stroke-width="0.6"><tspan x="2250.3" y="1902.0" font-size="92" textLength="105.6" lengthAdjust="spacingAndGlyphs">(b)</tspan></text>
<text stroke="#fff" stroke-width="0.6"><tspan x="1001.4" y="2281.5" font-size="102" textLength="590.9" lengthAdjust="spacingAndGlyphs">Wavenumber</tspan> <tspan x="1619.9" y="2281.5" font-size="102" textLength="152.1" lengthAdjust="spacingAndGlyphs">(cm</tspan> <tspan x="1775.2" y="2246.8" font-size="65" textLength="88.4" lengthAdjust="spacingAndGlyphs">−1</tspan> <tspan x="1866.2" y="2281.5" font-size="102" textLength="32.1" lengthAdjust="spacingAndGlyphs">)</tspan></text>
<text transform="translate(128.7,912.5) rotate(-90)" font-size="102" stroke="#fff" stroke-width="0.7" textLength="774" lengthAdjust="spacingAndGlyphs">Optical Thickness</text>
<text transform="translate(119.3,1945) rotate(-90)" font-size="102" stroke="#fff" stroke-width="0.7" textLength="777" lengthAdjust="spacingAndGlyphs">Optical Thickness</text>
</svg>
</body></html>
